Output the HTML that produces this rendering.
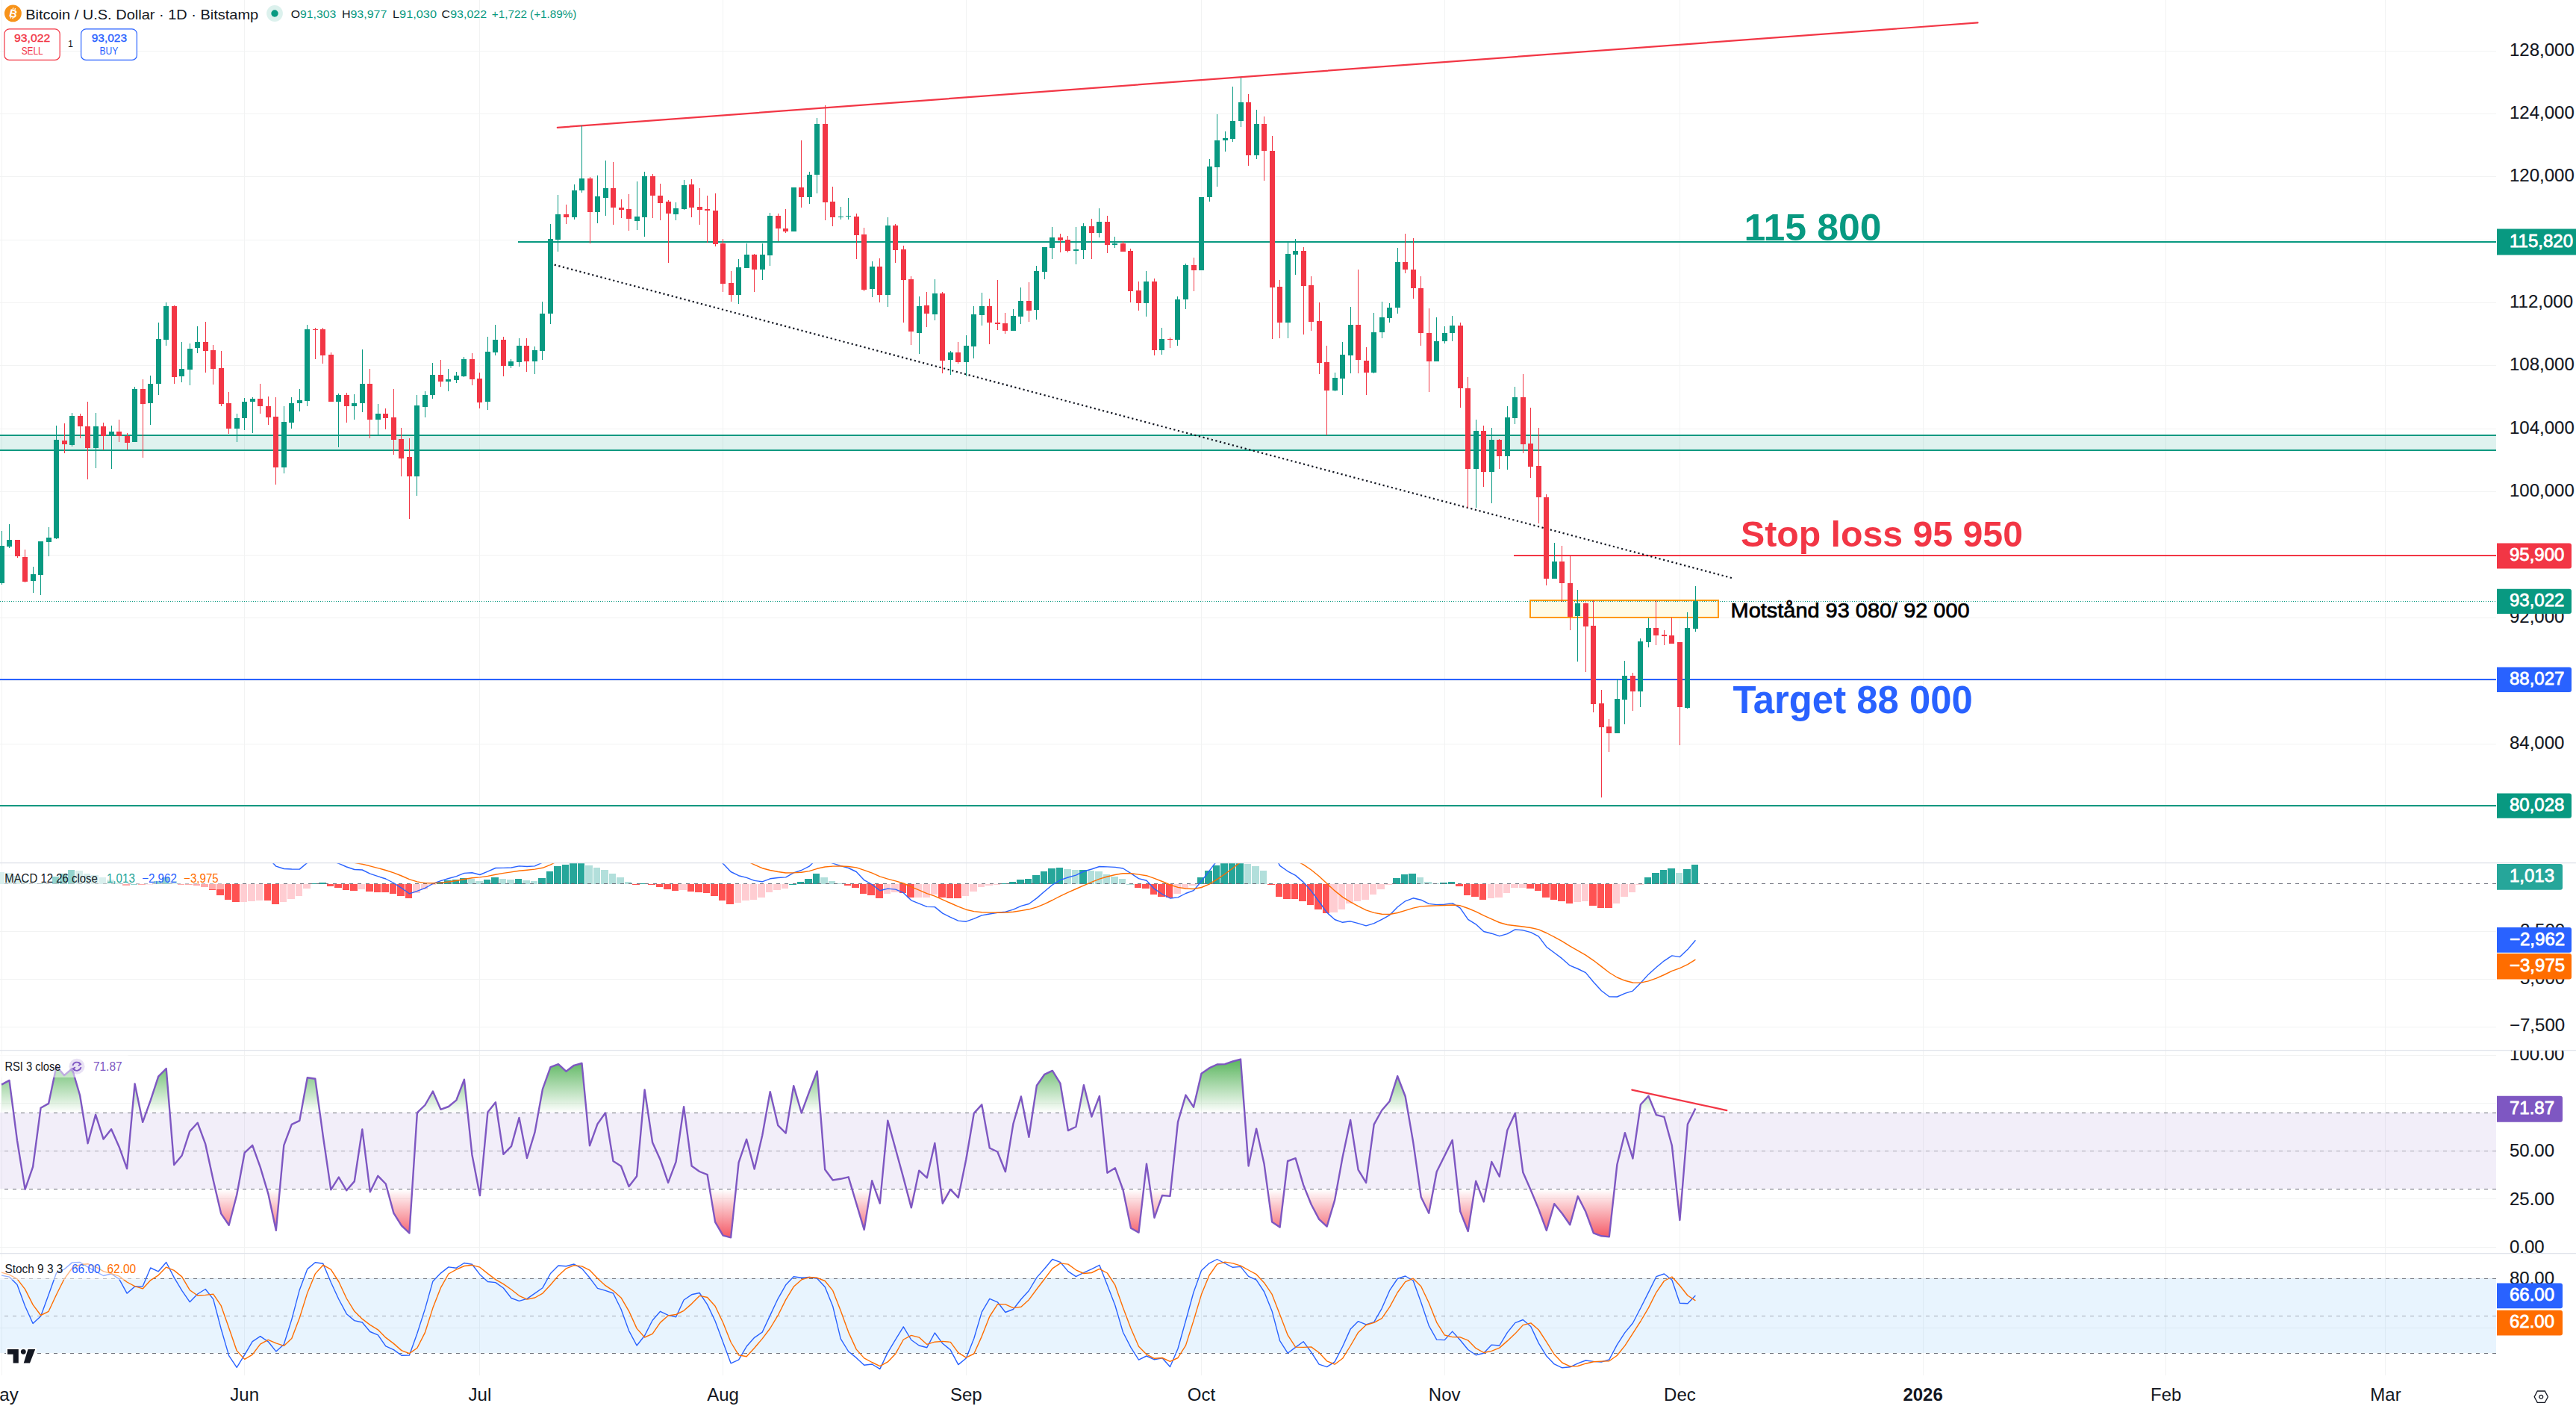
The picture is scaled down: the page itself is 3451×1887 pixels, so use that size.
<!DOCTYPE html>
<html><head><meta charset="utf-8"><title>BTCUSD chart</title>
<style>html,body{margin:0;padding:0;background:#fff;width:3451px;height:1887px;overflow:hidden}</style>
</head><body>
<svg width="3451" height="1887" viewBox="0 0 3451 1887" style="display:block">
<defs>
<clipPath id="cm"><rect x="0" y="0" width="3344" height="1155"/></clipPath>
<clipPath id="cmacd"><rect x="0" y="1156" width="3344" height="250"/></clipPath>
<clipPath id="crsi"><rect x="0" y="1407" width="3344" height="271"/></clipPath>
<clipPath id="cst"><rect x="0" y="1679" width="3344" height="163.5"/></clipPath>
<clipPath id="crsiTop"><rect x="0" y="1412.95" width="3344" height="77.25"/></clipPath>
<clipPath id="crsiBot"><rect x="0" y="1593.2" width="3344" height="77.25"/></clipPath>
<clipPath id="axm"><rect x="3344" y="0" width="200" height="1155"/></clipPath>
<clipPath id="axmacd"><rect x="3344" y="1156" width="200" height="250"/></clipPath>
<clipPath id="axrsi"><rect x="3344" y="1407" width="200" height="271"/></clipPath>
<clipPath id="axst"><rect x="3344" y="1679" width="200" height="163.5"/></clipPath>
<linearGradient id="gG" gradientUnits="userSpaceOnUse" x1="0" y1="1412.95" x2="0" y2="1490.2"><stop offset="0" stop-color="#4caf50" stop-opacity="1"/><stop offset="1" stop-color="#4caf50" stop-opacity="0"/></linearGradient>
<linearGradient id="gR" gradientUnits="userSpaceOnUse" x1="0" y1="1593.2" x2="0" y2="1670.45"><stop offset="0" stop-color="#f23645" stop-opacity="0"/><stop offset="1" stop-color="#f23645" stop-opacity="1"/></linearGradient>
</defs>
<rect width="3451" height="1887" fill="#ffffff"/>
<rect x="2" y="0" width="1" height="1842" fill="#f2f3f3"/>
<rect x="327" y="0" width="1" height="1842" fill="#f2f3f3"/>
<rect x="642" y="0" width="1" height="1842" fill="#f2f3f3"/>
<rect x="968" y="0" width="1" height="1842" fill="#f2f3f3"/>
<rect x="1294" y="0" width="1" height="1842" fill="#f2f3f3"/>
<rect x="1609" y="0" width="1" height="1842" fill="#f2f3f3"/>
<rect x="1935" y="0" width="1" height="1842" fill="#f2f3f3"/>
<rect x="2250" y="0" width="1" height="1842" fill="#f2f3f3"/>
<rect x="2576" y="0" width="1" height="1842" fill="#f2f3f3"/>
<rect x="2901" y="0" width="1" height="1842" fill="#f2f3f3"/>
<rect x="3195" y="0" width="1" height="1842" fill="#f2f3f3"/>
<rect x="0" y="1080" width="3344" height="1" fill="#f2f3f3"/>
<rect x="0" y="996" width="3344" height="1" fill="#f2f3f3"/>
<rect x="0" y="911" width="3344" height="1" fill="#f2f3f3"/>
<rect x="0" y="827" width="3344" height="1" fill="#f2f3f3"/>
<rect x="0" y="743" width="3344" height="1" fill="#f2f3f3"/>
<rect x="0" y="658" width="3344" height="1" fill="#f2f3f3"/>
<rect x="0" y="574" width="3344" height="1" fill="#f2f3f3"/>
<rect x="0" y="489" width="3344" height="1" fill="#f2f3f3"/>
<rect x="0" y="405" width="3344" height="1" fill="#f2f3f3"/>
<rect x="0" y="321" width="3344" height="1" fill="#f2f3f3"/>
<rect x="0" y="236" width="3344" height="1" fill="#f2f3f3"/>
<rect x="0" y="152" width="3344" height="1" fill="#f2f3f3"/>
<rect x="0" y="68" width="3344" height="1" fill="#f2f3f3"/>
<rect x="0" y="1247" width="3344" height="1" fill="#f2f3f3"/>
<rect x="0" y="1311" width="3344" height="1" fill="#f2f3f3"/>
<rect x="0" y="1375" width="3344" height="1" fill="#f2f3f3"/>
<rect x="0" y="1413" width="3344" height="1" fill="#f2f3f3"/>
<rect x="0" y="1477" width="3344" height="1" fill="#f2f3f3"/>
<rect x="0" y="1541" width="3344" height="1" fill="#f2f3f3"/>
<rect x="0" y="1605" width="3344" height="1" fill="#f2f3f3"/>
<rect x="0" y="1670" width="3344" height="1" fill="#f2f3f3"/>
<rect x="0" y="1712" width="3344" height="1" fill="#f2f3f3"/>
<rect x="0" y="1778" width="3344" height="1" fill="#f2f3f3"/>
<g clip-path="url(#cm)">
<rect x="0" y="584" width="3344" height="18" fill="#089981" fill-opacity="0.13"/>
<rect x="0" y="582" width="3344" height="2" fill="#089981"/>
<rect x="0" y="602" width="3344" height="2" fill="#089981"/>
<rect x="694" y="323" width="2650" height="2" fill="#089981"/>
<rect x="2028" y="743" width="1316" height="2" fill="#f23645"/>
<rect x="0" y="909" width="3344" height="2" fill="#2962ff"/>
<rect x="0" y="1078" width="3344" height="2" fill="#089981"/>
<rect x="2050" y="804" width="252" height="23" fill="#fffbe6"/>
<rect x="2050" y="804" width="252" height="23" fill="none" stroke="#ff9800" stroke-width="2"/>
<line x1="0" y1="805.5" x2="3344" y2="805.5" stroke="#089981" stroke-width="1" stroke-dasharray="1 2"/>
<line x1="746.8" y1="170.8" x2="2649.5" y2="30.4" stroke="#f23645" stroke-width="2.2" stroke-linecap="round"/>
<line x1="742.7" y1="354.6" x2="2322" y2="774.6" stroke="#131722" stroke-width="2.2" stroke-dasharray="2.2 3.6"/>
<rect x="2" y="711" width="1" height="72" fill="#089981"/>
<rect x="-1" y="731" width="7" height="50" fill="#089981"/>
<rect x="12" y="702" width="1" height="32" fill="#089981"/>
<rect x="9" y="723" width="7" height="9" fill="#089981"/>
<rect x="23" y="723" width="1" height="24" fill="#f23645"/>
<rect x="20" y="723" width="7" height="22" fill="#f23645"/>
<rect x="33" y="736" width="1" height="44" fill="#f23645"/>
<rect x="30" y="746" width="7" height="33" fill="#f23645"/>
<rect x="44" y="759" width="1" height="35" fill="#089981"/>
<rect x="41" y="769" width="7" height="9" fill="#089981"/>
<rect x="54" y="725" width="1" height="72" fill="#089981"/>
<rect x="51" y="725" width="7" height="45" fill="#089981"/>
<rect x="65" y="706" width="1" height="39" fill="#089981"/>
<rect x="62" y="720" width="7" height="6" fill="#089981"/>
<rect x="75" y="570" width="1" height="152" fill="#089981"/>
<rect x="72" y="589" width="7" height="132" fill="#089981"/>
<rect x="86" y="567" width="1" height="40" fill="#f23645"/>
<rect x="83" y="590" width="7" height="5" fill="#f23645"/>
<rect x="96" y="553" width="1" height="45" fill="#089981"/>
<rect x="93" y="557" width="7" height="39" fill="#089981"/>
<rect x="107" y="554" width="1" height="33" fill="#f23645"/>
<rect x="104" y="557" width="7" height="14" fill="#f23645"/>
<rect x="117" y="538" width="1" height="104" fill="#f23645"/>
<rect x="114" y="571" width="7" height="29" fill="#f23645"/>
<rect x="128" y="553" width="1" height="74" fill="#089981"/>
<rect x="125" y="571" width="7" height="29" fill="#089981"/>
<rect x="138" y="566" width="1" height="37" fill="#f23645"/>
<rect x="135" y="571" width="7" height="13" fill="#f23645"/>
<rect x="149" y="570" width="1" height="58" fill="#089981"/>
<rect x="146" y="578" width="7" height="6" fill="#089981"/>
<rect x="159" y="562" width="1" height="30" fill="#f23645"/>
<rect x="156" y="578" width="7" height="6" fill="#f23645"/>
<rect x="170" y="580" width="1" height="22" fill="#f23645"/>
<rect x="167" y="584" width="7" height="9" fill="#f23645"/>
<rect x="180" y="518" width="1" height="74" fill="#089981"/>
<rect x="177" y="521" width="7" height="71" fill="#089981"/>
<rect x="191" y="508" width="1" height="105" fill="#f23645"/>
<rect x="188" y="521" width="7" height="20" fill="#f23645"/>
<rect x="201" y="503" width="1" height="66" fill="#089981"/>
<rect x="198" y="514" width="7" height="26" fill="#089981"/>
<rect x="212" y="432" width="1" height="97" fill="#089981"/>
<rect x="209" y="454" width="7" height="60" fill="#089981"/>
<rect x="222" y="405" width="1" height="58" fill="#089981"/>
<rect x="219" y="410" width="7" height="45" fill="#089981"/>
<rect x="233" y="409" width="1" height="105" fill="#f23645"/>
<rect x="230" y="410" width="7" height="95" fill="#f23645"/>
<rect x="243" y="458" width="1" height="54" fill="#089981"/>
<rect x="240" y="494" width="7" height="10" fill="#089981"/>
<rect x="254" y="460" width="1" height="56" fill="#089981"/>
<rect x="251" y="467" width="7" height="28" fill="#089981"/>
<rect x="264" y="437" width="1" height="36" fill="#089981"/>
<rect x="261" y="458" width="7" height="8" fill="#089981"/>
<rect x="275" y="431" width="1" height="68" fill="#f23645"/>
<rect x="272" y="458" width="7" height="12" fill="#f23645"/>
<rect x="285" y="462" width="1" height="53" fill="#f23645"/>
<rect x="282" y="469" width="7" height="25" fill="#f23645"/>
<rect x="296" y="470" width="1" height="74" fill="#f23645"/>
<rect x="293" y="493" width="7" height="48" fill="#f23645"/>
<rect x="306" y="525" width="1" height="56" fill="#f23645"/>
<rect x="303" y="540" width="7" height="34" fill="#f23645"/>
<rect x="317" y="554" width="1" height="38" fill="#089981"/>
<rect x="314" y="560" width="7" height="14" fill="#089981"/>
<rect x="327" y="533" width="1" height="43" fill="#089981"/>
<rect x="324" y="538" width="7" height="22" fill="#089981"/>
<rect x="338" y="532" width="1" height="48" fill="#089981"/>
<rect x="335" y="534" width="7" height="4" fill="#089981"/>
<rect x="348" y="514" width="1" height="40" fill="#f23645"/>
<rect x="345" y="534" width="7" height="10" fill="#f23645"/>
<rect x="359" y="531" width="1" height="38" fill="#f23645"/>
<rect x="356" y="544" width="7" height="15" fill="#f23645"/>
<rect x="369" y="532" width="1" height="117" fill="#f23645"/>
<rect x="366" y="558" width="7" height="68" fill="#f23645"/>
<rect x="380" y="544" width="1" height="90" fill="#089981"/>
<rect x="377" y="565" width="7" height="61" fill="#089981"/>
<rect x="390" y="532" width="1" height="42" fill="#089981"/>
<rect x="387" y="540" width="7" height="26" fill="#089981"/>
<rect x="401" y="521" width="1" height="30" fill="#089981"/>
<rect x="398" y="536" width="7" height="4" fill="#089981"/>
<rect x="411" y="435" width="1" height="109" fill="#089981"/>
<rect x="408" y="441" width="7" height="96" fill="#089981"/>
<rect x="422" y="439" width="1" height="42" fill="#f23645"/>
<rect x="419" y="441" width="7" height="1" fill="#f23645"/>
<rect x="432" y="439" width="1" height="48" fill="#f23645"/>
<rect x="429" y="441" width="7" height="35" fill="#f23645"/>
<rect x="443" y="472" width="1" height="66" fill="#f23645"/>
<rect x="440" y="475" width="7" height="63" fill="#f23645"/>
<rect x="453" y="527" width="1" height="72" fill="#089981"/>
<rect x="450" y="529" width="7" height="9" fill="#089981"/>
<rect x="464" y="526" width="1" height="40" fill="#f23645"/>
<rect x="461" y="529" width="7" height="15" fill="#f23645"/>
<rect x="474" y="528" width="1" height="34" fill="#089981"/>
<rect x="471" y="540" width="7" height="4" fill="#089981"/>
<rect x="485" y="468" width="1" height="84" fill="#089981"/>
<rect x="482" y="514" width="7" height="26" fill="#089981"/>
<rect x="495" y="494" width="1" height="93" fill="#f23645"/>
<rect x="492" y="514" width="7" height="48" fill="#f23645"/>
<rect x="506" y="541" width="1" height="41" fill="#089981"/>
<rect x="503" y="554" width="7" height="8" fill="#089981"/>
<rect x="516" y="547" width="1" height="28" fill="#f23645"/>
<rect x="513" y="554" width="7" height="6" fill="#f23645"/>
<rect x="527" y="521" width="1" height="88" fill="#f23645"/>
<rect x="524" y="559" width="7" height="30" fill="#f23645"/>
<rect x="537" y="573" width="1" height="65" fill="#f23645"/>
<rect x="534" y="588" width="7" height="26" fill="#f23645"/>
<rect x="548" y="587" width="1" height="108" fill="#f23645"/>
<rect x="545" y="612" width="7" height="26" fill="#f23645"/>
<rect x="558" y="529" width="1" height="135" fill="#089981"/>
<rect x="555" y="543" width="7" height="95" fill="#089981"/>
<rect x="569" y="524" width="1" height="35" fill="#089981"/>
<rect x="566" y="529" width="7" height="16" fill="#089981"/>
<rect x="579" y="486" width="1" height="48" fill="#089981"/>
<rect x="576" y="502" width="7" height="27" fill="#089981"/>
<rect x="590" y="482" width="1" height="36" fill="#f23645"/>
<rect x="587" y="502" width="7" height="9" fill="#f23645"/>
<rect x="600" y="494" width="1" height="30" fill="#089981"/>
<rect x="597" y="508" width="7" height="3" fill="#089981"/>
<rect x="611" y="498" width="1" height="15" fill="#089981"/>
<rect x="608" y="503" width="7" height="6" fill="#089981"/>
<rect x="621" y="478" width="1" height="27" fill="#089981"/>
<rect x="618" y="481" width="7" height="23" fill="#089981"/>
<rect x="632" y="473" width="1" height="43" fill="#f23645"/>
<rect x="629" y="481" width="7" height="27" fill="#f23645"/>
<rect x="642" y="499" width="1" height="48" fill="#f23645"/>
<rect x="639" y="507" width="7" height="32" fill="#f23645"/>
<rect x="653" y="451" width="1" height="98" fill="#089981"/>
<rect x="650" y="471" width="7" height="67" fill="#089981"/>
<rect x="663" y="435" width="1" height="41" fill="#089981"/>
<rect x="660" y="455" width="7" height="17" fill="#089981"/>
<rect x="674" y="451" width="1" height="53" fill="#f23645"/>
<rect x="671" y="455" width="7" height="35" fill="#f23645"/>
<rect x="684" y="481" width="1" height="12" fill="#089981"/>
<rect x="681" y="484" width="7" height="6" fill="#089981"/>
<rect x="695" y="453" width="1" height="38" fill="#089981"/>
<rect x="692" y="463" width="7" height="22" fill="#089981"/>
<rect x="705" y="453" width="1" height="45" fill="#f23645"/>
<rect x="702" y="463" width="7" height="21" fill="#f23645"/>
<rect x="716" y="464" width="1" height="37" fill="#089981"/>
<rect x="713" y="469" width="7" height="15" fill="#089981"/>
<rect x="726" y="404" width="1" height="78" fill="#089981"/>
<rect x="723" y="420" width="7" height="50" fill="#089981"/>
<rect x="737" y="300" width="1" height="134" fill="#089981"/>
<rect x="734" y="320" width="7" height="100" fill="#089981"/>
<rect x="747" y="261" width="1" height="76" fill="#089981"/>
<rect x="744" y="287" width="7" height="34" fill="#089981"/>
<rect x="758" y="274" width="1" height="26" fill="#f23645"/>
<rect x="755" y="287" width="7" height="4" fill="#f23645"/>
<rect x="769" y="247" width="1" height="47" fill="#089981"/>
<rect x="766" y="255" width="7" height="36" fill="#089981"/>
<rect x="779" y="168" width="1" height="90" fill="#089981"/>
<rect x="776" y="239" width="7" height="16" fill="#089981"/>
<rect x="790" y="237" width="1" height="89" fill="#f23645"/>
<rect x="787" y="239" width="7" height="45" fill="#f23645"/>
<rect x="800" y="235" width="1" height="64" fill="#089981"/>
<rect x="797" y="263" width="7" height="21" fill="#089981"/>
<rect x="811" y="215" width="1" height="74" fill="#089981"/>
<rect x="808" y="252" width="7" height="13" fill="#089981"/>
<rect x="821" y="217" width="1" height="84" fill="#f23645"/>
<rect x="818" y="252" width="7" height="26" fill="#f23645"/>
<rect x="832" y="267" width="1" height="25" fill="#f23645"/>
<rect x="829" y="278" width="7" height="3" fill="#f23645"/>
<rect x="842" y="260" width="1" height="49" fill="#f23645"/>
<rect x="839" y="280" width="7" height="13" fill="#f23645"/>
<rect x="853" y="243" width="1" height="65" fill="#089981"/>
<rect x="850" y="290" width="7" height="6" fill="#089981"/>
<rect x="863" y="230" width="1" height="87" fill="#089981"/>
<rect x="860" y="236" width="7" height="55" fill="#089981"/>
<rect x="874" y="233" width="1" height="59" fill="#f23645"/>
<rect x="871" y="236" width="7" height="26" fill="#f23645"/>
<rect x="884" y="246" width="1" height="49" fill="#f23645"/>
<rect x="881" y="262" width="7" height="10" fill="#f23645"/>
<rect x="895" y="268" width="1" height="84" fill="#f23645"/>
<rect x="892" y="270" width="7" height="16" fill="#f23645"/>
<rect x="905" y="271" width="1" height="24" fill="#089981"/>
<rect x="902" y="279" width="7" height="8" fill="#089981"/>
<rect x="916" y="241" width="1" height="40" fill="#089981"/>
<rect x="913" y="248" width="7" height="32" fill="#089981"/>
<rect x="926" y="240" width="1" height="51" fill="#f23645"/>
<rect x="923" y="247" width="7" height="31" fill="#f23645"/>
<rect x="937" y="252" width="1" height="49" fill="#f23645"/>
<rect x="934" y="277" width="7" height="4" fill="#f23645"/>
<rect x="947" y="262" width="1" height="63" fill="#f23645"/>
<rect x="944" y="280" width="7" height="2" fill="#f23645"/>
<rect x="958" y="259" width="1" height="71" fill="#f23645"/>
<rect x="955" y="282" width="7" height="45" fill="#f23645"/>
<rect x="968" y="320" width="1" height="71" fill="#f23645"/>
<rect x="965" y="326" width="7" height="54" fill="#f23645"/>
<rect x="979" y="363" width="1" height="41" fill="#f23645"/>
<rect x="976" y="379" width="7" height="16" fill="#f23645"/>
<rect x="989" y="347" width="1" height="60" fill="#089981"/>
<rect x="986" y="358" width="7" height="37" fill="#089981"/>
<rect x="1000" y="326" width="1" height="33" fill="#089981"/>
<rect x="997" y="341" width="7" height="18" fill="#089981"/>
<rect x="1010" y="340" width="1" height="51" fill="#f23645"/>
<rect x="1007" y="341" width="7" height="20" fill="#f23645"/>
<rect x="1021" y="326" width="1" height="49" fill="#089981"/>
<rect x="1018" y="341" width="7" height="20" fill="#089981"/>
<rect x="1031" y="285" width="1" height="71" fill="#089981"/>
<rect x="1028" y="289" width="7" height="53" fill="#089981"/>
<rect x="1042" y="286" width="1" height="37" fill="#f23645"/>
<rect x="1039" y="289" width="7" height="17" fill="#f23645"/>
<rect x="1052" y="280" width="1" height="32" fill="#f23645"/>
<rect x="1049" y="306" width="7" height="4" fill="#f23645"/>
<rect x="1063" y="251" width="1" height="59" fill="#089981"/>
<rect x="1060" y="251" width="7" height="59" fill="#089981"/>
<rect x="1073" y="188" width="1" height="90" fill="#f23645"/>
<rect x="1070" y="251" width="7" height="13" fill="#f23645"/>
<rect x="1084" y="230" width="1" height="43" fill="#089981"/>
<rect x="1081" y="234" width="7" height="30" fill="#089981"/>
<rect x="1094" y="158" width="1" height="101" fill="#089981"/>
<rect x="1091" y="166" width="7" height="68" fill="#089981"/>
<rect x="1105" y="141" width="1" height="154" fill="#f23645"/>
<rect x="1102" y="166" width="7" height="105" fill="#f23645"/>
<rect x="1115" y="250" width="1" height="53" fill="#f23645"/>
<rect x="1112" y="270" width="7" height="21" fill="#f23645"/>
<rect x="1126" y="277" width="1" height="17" fill="#089981"/>
<rect x="1123" y="290" width="7" height="1" fill="#089981"/>
<rect x="1136" y="265" width="1" height="29" fill="#089981"/>
<rect x="1133" y="289" width="7" height="1" fill="#089981"/>
<rect x="1147" y="286" width="1" height="61" fill="#f23645"/>
<rect x="1144" y="290" width="7" height="25" fill="#f23645"/>
<rect x="1157" y="305" width="1" height="85" fill="#f23645"/>
<rect x="1154" y="314" width="7" height="74" fill="#f23645"/>
<rect x="1168" y="350" width="1" height="48" fill="#089981"/>
<rect x="1165" y="357" width="7" height="30" fill="#089981"/>
<rect x="1178" y="346" width="1" height="59" fill="#f23645"/>
<rect x="1175" y="357" width="7" height="38" fill="#f23645"/>
<rect x="1189" y="291" width="1" height="120" fill="#089981"/>
<rect x="1186" y="302" width="7" height="93" fill="#089981"/>
<rect x="1199" y="300" width="1" height="52" fill="#f23645"/>
<rect x="1196" y="302" width="7" height="33" fill="#f23645"/>
<rect x="1210" y="329" width="1" height="103" fill="#f23645"/>
<rect x="1207" y="334" width="7" height="41" fill="#f23645"/>
<rect x="1220" y="370" width="1" height="92" fill="#f23645"/>
<rect x="1217" y="374" width="7" height="70" fill="#f23645"/>
<rect x="1231" y="397" width="1" height="77" fill="#089981"/>
<rect x="1228" y="410" width="7" height="36" fill="#089981"/>
<rect x="1241" y="391" width="1" height="47" fill="#f23645"/>
<rect x="1238" y="409" width="7" height="11" fill="#f23645"/>
<rect x="1252" y="374" width="1" height="55" fill="#089981"/>
<rect x="1249" y="393" width="7" height="28" fill="#089981"/>
<rect x="1262" y="391" width="1" height="109" fill="#f23645"/>
<rect x="1259" y="393" width="7" height="90" fill="#f23645"/>
<rect x="1273" y="470" width="1" height="32" fill="#089981"/>
<rect x="1270" y="472" width="7" height="10" fill="#089981"/>
<rect x="1283" y="458" width="1" height="29" fill="#f23645"/>
<rect x="1280" y="472" width="7" height="13" fill="#f23645"/>
<rect x="1294" y="449" width="1" height="55" fill="#089981"/>
<rect x="1291" y="463" width="7" height="22" fill="#089981"/>
<rect x="1304" y="410" width="1" height="70" fill="#089981"/>
<rect x="1301" y="421" width="7" height="43" fill="#089981"/>
<rect x="1315" y="392" width="1" height="44" fill="#089981"/>
<rect x="1312" y="410" width="7" height="12" fill="#089981"/>
<rect x="1325" y="400" width="1" height="61" fill="#f23645"/>
<rect x="1322" y="410" width="7" height="22" fill="#f23645"/>
<rect x="1336" y="375" width="1" height="67" fill="#f23645"/>
<rect x="1333" y="432" width="7" height="2" fill="#f23645"/>
<rect x="1346" y="419" width="1" height="28" fill="#f23645"/>
<rect x="1343" y="433" width="7" height="10" fill="#f23645"/>
<rect x="1357" y="414" width="1" height="29" fill="#089981"/>
<rect x="1354" y="423" width="7" height="20" fill="#089981"/>
<rect x="1367" y="385" width="1" height="49" fill="#089981"/>
<rect x="1364" y="403" width="7" height="21" fill="#089981"/>
<rect x="1378" y="378" width="1" height="53" fill="#f23645"/>
<rect x="1375" y="403" width="7" height="13" fill="#f23645"/>
<rect x="1388" y="356" width="1" height="72" fill="#089981"/>
<rect x="1385" y="363" width="7" height="52" fill="#089981"/>
<rect x="1399" y="331" width="1" height="43" fill="#089981"/>
<rect x="1396" y="331" width="7" height="33" fill="#089981"/>
<rect x="1409" y="304" width="1" height="43" fill="#089981"/>
<rect x="1406" y="318" width="7" height="14" fill="#089981"/>
<rect x="1420" y="313" width="1" height="25" fill="#f23645"/>
<rect x="1417" y="318" width="7" height="4" fill="#f23645"/>
<rect x="1430" y="316" width="1" height="22" fill="#f23645"/>
<rect x="1427" y="321" width="7" height="15" fill="#f23645"/>
<rect x="1441" y="304" width="1" height="50" fill="#089981"/>
<rect x="1438" y="334" width="7" height="2" fill="#089981"/>
<rect x="1451" y="299" width="1" height="48" fill="#089981"/>
<rect x="1448" y="303" width="7" height="32" fill="#089981"/>
<rect x="1462" y="293" width="1" height="54" fill="#f23645"/>
<rect x="1459" y="303" width="7" height="9" fill="#f23645"/>
<rect x="1472" y="279" width="1" height="39" fill="#089981"/>
<rect x="1469" y="297" width="7" height="15" fill="#089981"/>
<rect x="1483" y="289" width="1" height="50" fill="#f23645"/>
<rect x="1480" y="297" width="7" height="31" fill="#f23645"/>
<rect x="1493" y="317" width="1" height="15" fill="#089981"/>
<rect x="1490" y="326" width="7" height="2" fill="#089981"/>
<rect x="1504" y="323" width="1" height="14" fill="#f23645"/>
<rect x="1501" y="326" width="7" height="11" fill="#f23645"/>
<rect x="1514" y="333" width="1" height="72" fill="#f23645"/>
<rect x="1511" y="336" width="7" height="54" fill="#f23645"/>
<rect x="1525" y="377" width="1" height="39" fill="#f23645"/>
<rect x="1522" y="389" width="7" height="17" fill="#f23645"/>
<rect x="1535" y="363" width="1" height="61" fill="#089981"/>
<rect x="1532" y="377" width="7" height="29" fill="#089981"/>
<rect x="1546" y="373" width="1" height="103" fill="#f23645"/>
<rect x="1543" y="377" width="7" height="92" fill="#f23645"/>
<rect x="1556" y="439" width="1" height="36" fill="#089981"/>
<rect x="1553" y="454" width="7" height="15" fill="#089981"/>
<rect x="1567" y="452" width="1" height="14" fill="#f23645"/>
<rect x="1564" y="454" width="7" height="1" fill="#f23645"/>
<rect x="1577" y="397" width="1" height="66" fill="#089981"/>
<rect x="1574" y="401" width="7" height="54" fill="#089981"/>
<rect x="1588" y="353" width="1" height="61" fill="#089981"/>
<rect x="1585" y="355" width="7" height="46" fill="#089981"/>
<rect x="1599" y="345" width="1" height="45" fill="#f23645"/>
<rect x="1596" y="355" width="7" height="7" fill="#f23645"/>
<rect x="1609" y="264" width="1" height="98" fill="#089981"/>
<rect x="1606" y="264" width="7" height="98" fill="#089981"/>
<rect x="1620" y="213" width="1" height="57" fill="#089981"/>
<rect x="1617" y="223" width="7" height="41" fill="#089981"/>
<rect x="1630" y="153" width="1" height="97" fill="#089981"/>
<rect x="1627" y="188" width="7" height="36" fill="#089981"/>
<rect x="1641" y="176" width="1" height="27" fill="#089981"/>
<rect x="1638" y="185" width="7" height="3" fill="#089981"/>
<rect x="1651" y="116" width="1" height="74" fill="#089981"/>
<rect x="1648" y="162" width="7" height="24" fill="#089981"/>
<rect x="1662" y="104" width="1" height="66" fill="#089981"/>
<rect x="1659" y="137" width="7" height="25" fill="#089981"/>
<rect x="1672" y="126" width="1" height="96" fill="#f23645"/>
<rect x="1669" y="137" width="7" height="71" fill="#f23645"/>
<rect x="1683" y="147" width="1" height="66" fill="#089981"/>
<rect x="1680" y="166" width="7" height="42" fill="#089981"/>
<rect x="1693" y="156" width="1" height="86" fill="#f23645"/>
<rect x="1690" y="166" width="7" height="36" fill="#f23645"/>
<rect x="1704" y="182" width="1" height="272" fill="#f23645"/>
<rect x="1701" y="202" width="7" height="183" fill="#f23645"/>
<rect x="1714" y="375" width="1" height="78" fill="#f23645"/>
<rect x="1711" y="384" width="7" height="48" fill="#f23645"/>
<rect x="1725" y="324" width="1" height="129" fill="#089981"/>
<rect x="1722" y="340" width="7" height="92" fill="#089981"/>
<rect x="1735" y="320" width="1" height="48" fill="#089981"/>
<rect x="1732" y="336" width="7" height="5" fill="#089981"/>
<rect x="1746" y="331" width="1" height="117" fill="#f23645"/>
<rect x="1743" y="336" width="7" height="47" fill="#f23645"/>
<rect x="1756" y="370" width="1" height="73" fill="#f23645"/>
<rect x="1753" y="382" width="7" height="49" fill="#f23645"/>
<rect x="1767" y="405" width="1" height="96" fill="#f23645"/>
<rect x="1764" y="430" width="7" height="56" fill="#f23645"/>
<rect x="1777" y="463" width="1" height="120" fill="#f23645"/>
<rect x="1774" y="485" width="7" height="38" fill="#f23645"/>
<rect x="1788" y="499" width="1" height="25" fill="#089981"/>
<rect x="1785" y="506" width="7" height="17" fill="#089981"/>
<rect x="1798" y="458" width="1" height="71" fill="#089981"/>
<rect x="1795" y="475" width="7" height="32" fill="#089981"/>
<rect x="1809" y="411" width="1" height="89" fill="#089981"/>
<rect x="1806" y="435" width="7" height="41" fill="#089981"/>
<rect x="1819" y="361" width="1" height="139" fill="#f23645"/>
<rect x="1816" y="435" width="7" height="47" fill="#f23645"/>
<rect x="1830" y="465" width="1" height="64" fill="#f23645"/>
<rect x="1827" y="483" width="7" height="16" fill="#f23645"/>
<rect x="1840" y="419" width="1" height="81" fill="#089981"/>
<rect x="1837" y="445" width="7" height="54" fill="#089981"/>
<rect x="1851" y="404" width="1" height="49" fill="#089981"/>
<rect x="1848" y="425" width="7" height="20" fill="#089981"/>
<rect x="1861" y="406" width="1" height="26" fill="#089981"/>
<rect x="1858" y="412" width="7" height="14" fill="#089981"/>
<rect x="1872" y="332" width="1" height="88" fill="#089981"/>
<rect x="1869" y="351" width="7" height="61" fill="#089981"/>
<rect x="1882" y="313" width="1" height="53" fill="#f23645"/>
<rect x="1879" y="351" width="7" height="10" fill="#f23645"/>
<rect x="1893" y="319" width="1" height="81" fill="#f23645"/>
<rect x="1890" y="361" width="7" height="25" fill="#f23645"/>
<rect x="1903" y="370" width="1" height="93" fill="#f23645"/>
<rect x="1900" y="386" width="7" height="60" fill="#f23645"/>
<rect x="1914" y="413" width="1" height="112" fill="#f23645"/>
<rect x="1911" y="446" width="7" height="38" fill="#f23645"/>
<rect x="1924" y="425" width="1" height="59" fill="#089981"/>
<rect x="1921" y="457" width="7" height="27" fill="#089981"/>
<rect x="1935" y="437" width="1" height="23" fill="#089981"/>
<rect x="1932" y="446" width="7" height="11" fill="#089981"/>
<rect x="1945" y="423" width="1" height="34" fill="#089981"/>
<rect x="1942" y="436" width="7" height="10" fill="#089981"/>
<rect x="1956" y="432" width="1" height="114" fill="#f23645"/>
<rect x="1953" y="436" width="7" height="84" fill="#f23645"/>
<rect x="1966" y="505" width="1" height="175" fill="#f23645"/>
<rect x="1963" y="520" width="7" height="108" fill="#f23645"/>
<rect x="1977" y="562" width="1" height="118" fill="#089981"/>
<rect x="1974" y="577" width="7" height="51" fill="#089981"/>
<rect x="1987" y="570" width="1" height="82" fill="#f23645"/>
<rect x="1984" y="577" width="7" height="55" fill="#f23645"/>
<rect x="1998" y="573" width="1" height="101" fill="#089981"/>
<rect x="1995" y="589" width="7" height="43" fill="#089981"/>
<rect x="2008" y="588" width="1" height="40" fill="#f23645"/>
<rect x="2005" y="589" width="7" height="22" fill="#f23645"/>
<rect x="2019" y="544" width="1" height="85" fill="#089981"/>
<rect x="2016" y="559" width="7" height="52" fill="#089981"/>
<rect x="2029" y="518" width="1" height="50" fill="#089981"/>
<rect x="2026" y="532" width="7" height="28" fill="#089981"/>
<rect x="2040" y="501" width="1" height="106" fill="#f23645"/>
<rect x="2037" y="532" width="7" height="63" fill="#f23645"/>
<rect x="2050" y="546" width="1" height="94" fill="#f23645"/>
<rect x="2047" y="594" width="7" height="31" fill="#f23645"/>
<rect x="2061" y="573" width="1" height="128" fill="#f23645"/>
<rect x="2058" y="624" width="7" height="42" fill="#f23645"/>
<rect x="2071" y="662" width="1" height="122" fill="#f23645"/>
<rect x="2068" y="666" width="7" height="109" fill="#f23645"/>
<rect x="2082" y="727" width="1" height="48" fill="#089981"/>
<rect x="2079" y="752" width="7" height="23" fill="#089981"/>
<rect x="2092" y="731" width="1" height="75" fill="#f23645"/>
<rect x="2089" y="752" width="7" height="29" fill="#f23645"/>
<rect x="2103" y="744" width="1" height="100" fill="#f23645"/>
<rect x="2100" y="781" width="7" height="45" fill="#f23645"/>
<rect x="2113" y="790" width="1" height="96" fill="#089981"/>
<rect x="2110" y="808" width="7" height="17" fill="#089981"/>
<rect x="2124" y="807" width="1" height="93" fill="#f23645"/>
<rect x="2121" y="808" width="7" height="31" fill="#f23645"/>
<rect x="2134" y="804" width="1" height="150" fill="#f23645"/>
<rect x="2131" y="838" width="7" height="105" fill="#f23645"/>
<rect x="2145" y="924" width="1" height="144" fill="#f23645"/>
<rect x="2142" y="942" width="7" height="32" fill="#f23645"/>
<rect x="2155" y="963" width="1" height="44" fill="#f23645"/>
<rect x="2152" y="973" width="7" height="9" fill="#f23645"/>
<rect x="2166" y="909" width="1" height="73" fill="#089981"/>
<rect x="2163" y="936" width="7" height="46" fill="#089981"/>
<rect x="2176" y="885" width="1" height="85" fill="#089981"/>
<rect x="2173" y="905" width="7" height="32" fill="#089981"/>
<rect x="2187" y="901" width="1" height="51" fill="#f23645"/>
<rect x="2184" y="905" width="7" height="21" fill="#f23645"/>
<rect x="2197" y="855" width="1" height="92" fill="#089981"/>
<rect x="2194" y="859" width="7" height="67" fill="#089981"/>
<rect x="2208" y="828" width="1" height="39" fill="#089981"/>
<rect x="2205" y="841" width="7" height="19" fill="#089981"/>
<rect x="2218" y="804" width="1" height="60" fill="#f23645"/>
<rect x="2215" y="841" width="7" height="10" fill="#f23645"/>
<rect x="2229" y="844" width="1" height="20" fill="#f23645"/>
<rect x="2226" y="850" width="7" height="2" fill="#f23645"/>
<rect x="2239" y="827" width="1" height="35" fill="#f23645"/>
<rect x="2236" y="851" width="7" height="11" fill="#f23645"/>
<rect x="2250" y="860" width="1" height="138" fill="#f23645"/>
<rect x="2247" y="860" width="7" height="87" fill="#f23645"/>
<rect x="2260" y="820" width="1" height="129" fill="#089981"/>
<rect x="2257" y="841" width="7" height="107" fill="#089981"/>
<rect x="2271" y="785" width="1" height="61" fill="#089981"/>
<rect x="2268" y="805" width="7" height="37" fill="#089981"/>
<text x="2336.5" y="322" font-family="Liberation Sans, sans-serif" font-weight="bold" font-size="50" fill="#089981" textLength="184" lengthAdjust="spacingAndGlyphs">115 800</text>
<text x="2332" y="732" font-family="Liberation Sans, sans-serif" font-weight="bold" font-size="49" fill="#f23645" textLength="378" lengthAdjust="spacingAndGlyphs">Stop loss 95 950</text>
<text x="2321.4" y="954.9" font-family="Liberation Sans, sans-serif" font-weight="bold" font-size="51" fill="#2962ff" textLength="321.4" lengthAdjust="spacingAndGlyphs">Target 88 000</text>
<text x="2318.6" y="826.9" font-family="Liberation Sans, sans-serif" font-size="27.5" fill="#000000" stroke="#000000" stroke-width="0.7" textLength="320" lengthAdjust="spacingAndGlyphs">Motstånd 93 080/ 92 000</text>
</g>
<g clip-path="url(#cmacd)">
<rect x="-4" y="1168" width="10" height="16" fill="#b2dfdb"/>
<rect x="7" y="1169" width="9" height="15" fill="#b2dfdb"/>
<rect x="17" y="1173" width="10" height="11" fill="#b2dfdb"/>
<rect x="28" y="1179" width="9" height="5" fill="#b2dfdb"/>
<rect x="38" y="1183" width="10" height="1" fill="#b2dfdb"/>
<rect x="49" y="1183" width="9" height="1" fill="#26a69a"/>
<rect x="59" y="1183" width="10" height="1" fill="#b2dfdb"/>
<rect x="70" y="1174" width="9" height="10" fill="#26a69a"/>
<rect x="80" y="1170" width="10" height="14" fill="#26a69a"/>
<rect x="91" y="1165" width="9" height="19" fill="#26a69a"/>
<rect x="101" y="1166" width="10" height="18" fill="#b2dfdb"/>
<rect x="112" y="1170" width="9" height="14" fill="#b2dfdb"/>
<rect x="122" y="1172" width="10" height="12" fill="#b2dfdb"/>
<rect x="133" y="1175" width="9" height="9" fill="#b2dfdb"/>
<rect x="143" y="1178" width="10" height="6" fill="#b2dfdb"/>
<rect x="154" y="1182" width="9" height="2" fill="#b2dfdb"/>
<rect x="164" y="1184" width="10" height="2" fill="#ff5252"/>
<rect x="175" y="1184" width="9" height="1" fill="#26a69a"/>
<rect x="185" y="1184" width="10" height="1" fill="#ff5252"/>
<rect x="196" y="1184" width="9" height="1" fill="#ffcdd2"/>
<rect x="206" y="1180" width="10" height="4" fill="#26a69a"/>
<rect x="217" y="1175" width="9" height="9" fill="#26a69a"/>
<rect x="227" y="1180" width="10" height="4" fill="#b2dfdb"/>
<rect x="238" y="1184" width="9" height="1" fill="#ff5252"/>
<rect x="248" y="1184" width="10" height="1" fill="#ff5252"/>
<rect x="259" y="1184" width="9" height="2" fill="#ff5252"/>
<rect x="269" y="1184" width="10" height="4" fill="#ff5252"/>
<rect x="280" y="1184" width="9" height="8" fill="#ff5252"/>
<rect x="290" y="1184" width="10" height="15" fill="#ff5252"/>
<rect x="301" y="1184" width="9" height="21" fill="#ff5252"/>
<rect x="311" y="1184" width="10" height="24" fill="#ff5252"/>
<rect x="322" y="1184" width="9" height="24" fill="#ffcdd2"/>
<rect x="332" y="1184" width="10" height="23" fill="#ffcdd2"/>
<rect x="343" y="1184" width="9" height="22" fill="#ffcdd2"/>
<rect x="354" y="1184" width="9" height="22" fill="#ff5252"/>
<rect x="364" y="1184" width="10" height="27" fill="#ff5252"/>
<rect x="375" y="1184" width="9" height="24" fill="#ffcdd2"/>
<rect x="385" y="1184" width="10" height="20" fill="#ffcdd2"/>
<rect x="396" y="1184" width="9" height="16" fill="#ffcdd2"/>
<rect x="406" y="1184" width="10" height="6" fill="#ffcdd2"/>
<rect x="417" y="1183" width="9" height="1" fill="#26a69a"/>
<rect x="427" y="1182" width="10" height="2" fill="#26a69a"/>
<rect x="438" y="1184" width="9" height="3" fill="#ff5252"/>
<rect x="448" y="1184" width="10" height="5" fill="#ff5252"/>
<rect x="459" y="1184" width="9" height="8" fill="#ff5252"/>
<rect x="469" y="1184" width="10" height="9" fill="#ff5252"/>
<rect x="480" y="1184" width="9" height="7" fill="#ffcdd2"/>
<rect x="490" y="1184" width="10" height="10" fill="#ff5252"/>
<rect x="501" y="1184" width="9" height="11" fill="#ff5252"/>
<rect x="511" y="1184" width="10" height="11" fill="#ff5252"/>
<rect x="522" y="1184" width="9" height="13" fill="#ff5252"/>
<rect x="532" y="1184" width="10" height="16" fill="#ff5252"/>
<rect x="543" y="1184" width="9" height="19" fill="#ff5252"/>
<rect x="553" y="1184" width="10" height="12" fill="#ffcdd2"/>
<rect x="564" y="1184" width="9" height="7" fill="#ffcdd2"/>
<rect x="574" y="1184" width="10" height="1" fill="#ffcdd2"/>
<rect x="585" y="1181" width="9" height="3" fill="#26a69a"/>
<rect x="595" y="1179" width="10" height="5" fill="#26a69a"/>
<rect x="606" y="1178" width="9" height="6" fill="#26a69a"/>
<rect x="616" y="1176" width="10" height="8" fill="#26a69a"/>
<rect x="627" y="1177" width="9" height="7" fill="#b2dfdb"/>
<rect x="637" y="1180" width="10" height="4" fill="#b2dfdb"/>
<rect x="648" y="1178" width="9" height="6" fill="#26a69a"/>
<rect x="658" y="1175" width="10" height="9" fill="#26a69a"/>
<rect x="669" y="1177" width="9" height="7" fill="#b2dfdb"/>
<rect x="679" y="1178" width="10" height="6" fill="#b2dfdb"/>
<rect x="690" y="1177" width="9" height="7" fill="#26a69a"/>
<rect x="700" y="1179" width="10" height="5" fill="#b2dfdb"/>
<rect x="711" y="1180" width="9" height="4" fill="#b2dfdb"/>
<rect x="721" y="1176" width="10" height="8" fill="#26a69a"/>
<rect x="732" y="1167" width="9" height="17" fill="#26a69a"/>
<rect x="742" y="1160" width="10" height="24" fill="#26a69a"/>
<rect x="753" y="1158" width="9" height="26" fill="#26a69a"/>
<rect x="763" y="1155" width="10" height="29" fill="#26a69a"/>
<rect x="774" y="1154" width="9" height="30" fill="#26a69a"/>
<rect x="784" y="1159" width="10" height="25" fill="#b2dfdb"/>
<rect x="795" y="1162" width="9" height="22" fill="#b2dfdb"/>
<rect x="805" y="1165" width="10" height="19" fill="#b2dfdb"/>
<rect x="816" y="1170" width="9" height="14" fill="#b2dfdb"/>
<rect x="826" y="1175" width="10" height="9" fill="#b2dfdb"/>
<rect x="837" y="1181" width="9" height="3" fill="#b2dfdb"/>
<rect x="847" y="1184" width="10" height="1" fill="#ff5252"/>
<rect x="858" y="1183" width="9" height="1" fill="#26a69a"/>
<rect x="868" y="1184" width="10" height="1" fill="#ff5252"/>
<rect x="879" y="1184" width="9" height="4" fill="#ff5252"/>
<rect x="889" y="1184" width="10" height="7" fill="#ff5252"/>
<rect x="900" y="1184" width="9" height="9" fill="#ff5252"/>
<rect x="910" y="1184" width="10" height="8" fill="#ffcdd2"/>
<rect x="921" y="1184" width="9" height="10" fill="#ff5252"/>
<rect x="931" y="1184" width="10" height="11" fill="#ff5252"/>
<rect x="942" y="1184" width="9" height="12" fill="#ff5252"/>
<rect x="952" y="1184" width="10" height="16" fill="#ff5252"/>
<rect x="963" y="1184" width="9" height="22" fill="#ff5252"/>
<rect x="973" y="1184" width="10" height="27" fill="#ff5252"/>
<rect x="984" y="1184" width="9" height="25" fill="#ffcdd2"/>
<rect x="994" y="1184" width="10" height="22" fill="#ffcdd2"/>
<rect x="1005" y="1184" width="9" height="21" fill="#ffcdd2"/>
<rect x="1015" y="1184" width="10" height="18" fill="#ffcdd2"/>
<rect x="1026" y="1184" width="9" height="11" fill="#ffcdd2"/>
<rect x="1036" y="1184" width="10" height="8" fill="#ffcdd2"/>
<rect x="1047" y="1184" width="9" height="6" fill="#ffcdd2"/>
<rect x="1057" y="1184" width="10" height="1" fill="#26a69a"/>
<rect x="1068" y="1181" width="9" height="3" fill="#26a69a"/>
<rect x="1078" y="1177" width="10" height="7" fill="#26a69a"/>
<rect x="1089" y="1170" width="9" height="14" fill="#26a69a"/>
<rect x="1099" y="1175" width="10" height="9" fill="#b2dfdb"/>
<rect x="1110" y="1180" width="9" height="4" fill="#b2dfdb"/>
<rect x="1120" y="1183" width="10" height="1" fill="#b2dfdb"/>
<rect x="1131" y="1184" width="9" height="2" fill="#ff5252"/>
<rect x="1141" y="1184" width="10" height="5" fill="#ff5252"/>
<rect x="1152" y="1184" width="9" height="13" fill="#ff5252"/>
<rect x="1162" y="1184" width="10" height="15" fill="#ff5252"/>
<rect x="1173" y="1184" width="10" height="19" fill="#ff5252"/>
<rect x="1184" y="1184" width="9" height="13" fill="#ffcdd2"/>
<rect x="1194" y="1184" width="10" height="11" fill="#ffcdd2"/>
<rect x="1205" y="1184" width="9" height="12" fill="#ff5252"/>
<rect x="1215" y="1184" width="10" height="18" fill="#ff5252"/>
<rect x="1226" y="1184" width="9" height="18" fill="#ffcdd2"/>
<rect x="1236" y="1184" width="10" height="18" fill="#ffcdd2"/>
<rect x="1247" y="1184" width="9" height="14" fill="#ffcdd2"/>
<rect x="1257" y="1184" width="10" height="18" fill="#ff5252"/>
<rect x="1268" y="1184" width="9" height="19" fill="#ff5252"/>
<rect x="1278" y="1184" width="10" height="19" fill="#ff5252"/>
<rect x="1289" y="1184" width="9" height="16" fill="#ffcdd2"/>
<rect x="1299" y="1184" width="10" height="10" fill="#ffcdd2"/>
<rect x="1310" y="1184" width="9" height="4" fill="#ffcdd2"/>
<rect x="1320" y="1184" width="10" height="2" fill="#ffcdd2"/>
<rect x="1331" y="1184" width="9" height="1" fill="#ffcdd2"/>
<rect x="1341" y="1183" width="10" height="1" fill="#26a69a"/>
<rect x="1352" y="1181" width="9" height="3" fill="#26a69a"/>
<rect x="1362" y="1178" width="10" height="6" fill="#26a69a"/>
<rect x="1373" y="1177" width="9" height="7" fill="#26a69a"/>
<rect x="1383" y="1172" width="10" height="12" fill="#26a69a"/>
<rect x="1394" y="1167" width="9" height="17" fill="#26a69a"/>
<rect x="1404" y="1163" width="10" height="21" fill="#26a69a"/>
<rect x="1415" y="1162" width="9" height="22" fill="#26a69a"/>
<rect x="1425" y="1164" width="10" height="20" fill="#b2dfdb"/>
<rect x="1436" y="1165" width="9" height="19" fill="#b2dfdb"/>
<rect x="1446" y="1165" width="10" height="19" fill="#26a69a"/>
<rect x="1457" y="1166" width="9" height="18" fill="#b2dfdb"/>
<rect x="1467" y="1167" width="10" height="17" fill="#b2dfdb"/>
<rect x="1478" y="1171" width="9" height="13" fill="#b2dfdb"/>
<rect x="1488" y="1174" width="10" height="10" fill="#b2dfdb"/>
<rect x="1499" y="1177" width="9" height="7" fill="#b2dfdb"/>
<rect x="1509" y="1184" width="10" height="1" fill="#b2dfdb"/>
<rect x="1520" y="1184" width="9" height="5" fill="#ff5252"/>
<rect x="1530" y="1184" width="10" height="6" fill="#ff5252"/>
<rect x="1541" y="1184" width="9" height="14" fill="#ff5252"/>
<rect x="1551" y="1184" width="10" height="17" fill="#ff5252"/>
<rect x="1562" y="1184" width="9" height="18" fill="#ff5252"/>
<rect x="1572" y="1184" width="10" height="13" fill="#ffcdd2"/>
<rect x="1583" y="1184" width="9" height="6" fill="#ffcdd2"/>
<rect x="1593" y="1184" width="10" height="2" fill="#ffcdd2"/>
<rect x="1604" y="1175" width="9" height="9" fill="#26a69a"/>
<rect x="1614" y="1166" width="10" height="18" fill="#26a69a"/>
<rect x="1625" y="1159" width="9" height="25" fill="#26a69a"/>
<rect x="1635" y="1155" width="10" height="29" fill="#26a69a"/>
<rect x="1646" y="1153" width="9" height="31" fill="#26a69a"/>
<rect x="1656" y="1151" width="10" height="33" fill="#26a69a"/>
<rect x="1667" y="1157" width="9" height="27" fill="#b2dfdb"/>
<rect x="1677" y="1160" width="10" height="24" fill="#b2dfdb"/>
<rect x="1688" y="1166" width="9" height="18" fill="#b2dfdb"/>
<rect x="1698" y="1184" width="10" height="1" fill="#ff5252"/>
<rect x="1709" y="1184" width="9" height="17" fill="#ff5252"/>
<rect x="1719" y="1184" width="10" height="20" fill="#ff5252"/>
<rect x="1730" y="1184" width="9" height="20" fill="#ff5252"/>
<rect x="1740" y="1184" width="10" height="23" fill="#ff5252"/>
<rect x="1751" y="1184" width="9" height="28" fill="#ff5252"/>
<rect x="1761" y="1184" width="10" height="34" fill="#ff5252"/>
<rect x="1772" y="1184" width="9" height="39" fill="#ff5252"/>
<rect x="1782" y="1184" width="10" height="38" fill="#ffcdd2"/>
<rect x="1793" y="1184" width="9" height="34" fill="#ffcdd2"/>
<rect x="1803" y="1184" width="10" height="26" fill="#ffcdd2"/>
<rect x="1814" y="1184" width="9" height="23" fill="#ffcdd2"/>
<rect x="1824" y="1184" width="10" height="21" fill="#ffcdd2"/>
<rect x="1835" y="1184" width="9" height="14" fill="#ffcdd2"/>
<rect x="1845" y="1184" width="10" height="7" fill="#ffcdd2"/>
<rect x="1856" y="1184" width="9" height="1" fill="#ffcdd2"/>
<rect x="1866" y="1176" width="10" height="8" fill="#26a69a"/>
<rect x="1877" y="1171" width="9" height="13" fill="#26a69a"/>
<rect x="1887" y="1170" width="10" height="14" fill="#26a69a"/>
<rect x="1898" y="1175" width="9" height="9" fill="#b2dfdb"/>
<rect x="1908" y="1181" width="10" height="3" fill="#b2dfdb"/>
<rect x="1919" y="1183" width="9" height="1" fill="#b2dfdb"/>
<rect x="1929" y="1182" width="10" height="2" fill="#26a69a"/>
<rect x="1940" y="1181" width="9" height="3" fill="#26a69a"/>
<rect x="1950" y="1184" width="10" height="3" fill="#ff5252"/>
<rect x="1961" y="1184" width="9" height="15" fill="#ff5252"/>
<rect x="1971" y="1184" width="10" height="17" fill="#ff5252"/>
<rect x="1982" y="1184" width="9" height="21" fill="#ff5252"/>
<rect x="1993" y="1184" width="9" height="19" fill="#ffcdd2"/>
<rect x="2003" y="1184" width="10" height="18" fill="#ffcdd2"/>
<rect x="2014" y="1184" width="9" height="12" fill="#ffcdd2"/>
<rect x="2024" y="1184" width="10" height="5" fill="#ffcdd2"/>
<rect x="2035" y="1184" width="9" height="5" fill="#ffcdd2"/>
<rect x="2045" y="1184" width="10" height="6" fill="#ff5252"/>
<rect x="2056" y="1184" width="9" height="9" fill="#ff5252"/>
<rect x="2066" y="1184" width="10" height="18" fill="#ff5252"/>
<rect x="2077" y="1184" width="9" height="21" fill="#ff5252"/>
<rect x="2087" y="1184" width="10" height="23" fill="#ff5252"/>
<rect x="2098" y="1184" width="9" height="26" fill="#ff5252"/>
<rect x="2108" y="1184" width="10" height="24" fill="#ffcdd2"/>
<rect x="2119" y="1184" width="9" height="23" fill="#ffcdd2"/>
<rect x="2129" y="1184" width="10" height="29" fill="#ff5252"/>
<rect x="2140" y="1184" width="9" height="32" fill="#ff5252"/>
<rect x="2150" y="1184" width="10" height="32" fill="#ff5252"/>
<rect x="2161" y="1184" width="9" height="26" fill="#ffcdd2"/>
<rect x="2171" y="1184" width="10" height="17" fill="#ffcdd2"/>
<rect x="2182" y="1184" width="9" height="11" fill="#ffcdd2"/>
<rect x="2192" y="1184" width="10" height="1" fill="#ffcdd2"/>
<rect x="2203" y="1175" width="9" height="9" fill="#26a69a"/>
<rect x="2213" y="1169" width="10" height="15" fill="#26a69a"/>
<rect x="2224" y="1165" width="9" height="19" fill="#26a69a"/>
<rect x="2234" y="1163" width="10" height="21" fill="#26a69a"/>
<rect x="2245" y="1169" width="9" height="15" fill="#b2dfdb"/>
<rect x="2255" y="1164" width="10" height="20" fill="#26a69a"/>
<rect x="2266" y="1158" width="9" height="26" fill="#26a69a"/>
<line x1="0" y1="1183.5" x2="3344" y2="1183.5" stroke="#6e717c" stroke-width="1" stroke-dasharray="5 6" stroke-dashoffset="5"/>
<polyline points="2.0,1105.3 12.5,1102.7 23.0,1103.7 33.6,1108.7 44.1,1112.5 54.6,1112.1 65.1,1112.1 75.6,1100.2 86.1,1092.5 96.6,1083.8 107.1,1079.5 117.6,1080.1 128.1,1078.9 138.6,1080.5 149.1,1082.3 159.6,1085.5 170.1,1089.9 180.6,1087.5 191.2,1088.7 201.7,1088.1 212.2,1082.9 222.7,1075.8 233.2,1080.5 243.7,1084.4 254.2,1086.0 264.7,1087.5 275.2,1090.8 285.7,1096.9 296.2,1107.1 306.7,1119.2 317.2,1128.1 327.7,1133.5 338.2,1138.0 348.7,1143.0 359.3,1148.7 369.8,1160.2 380.3,1163.5 390.8,1164.0 401.3,1164.1 411.8,1155.3 422.3,1148.8 432.8,1147.4 443.3,1152.7 453.8,1156.4 464.3,1161.0 474.8,1164.5 485.3,1165.0 495.8,1170.2 506.3,1173.6 516.8,1177.0 527.4,1182.5 537.9,1189.3 548.4,1196.8 558.9,1193.4 569.4,1189.3 579.9,1183.5 590.4,1179.7 600.9,1176.5 611.4,1173.6 621.9,1169.4 632.4,1168.8 642.9,1171.5 653.4,1167.2 663.9,1162.5 674.4,1162.4 685.0,1162.0 695.5,1159.9 706.0,1160.5 716.5,1159.9 727.0,1154.9 737.5,1141.7 748.0,1128.6 758.5,1119.4 769.0,1109.4 779.5,1101.0 790.0,1099.6 800.5,1097.4 811.0,1095.7 821.5,1097.8 832.0,1100.8 842.5,1105.2 853.1,1109.2 863.6,1108.1 874.1,1110.5 884.6,1114.2 895.1,1119.3 905.6,1123.3 916.1,1124.2 926.6,1128.4 937.1,1132.6 947.6,1136.7 958.1,1144.7 968.6,1156.5 979.1,1167.5 989.6,1172.7 1000.1,1175.4 1010.7,1179.4 1021.2,1180.8 1031.7,1176.8 1042.2,1175.5 1052.7,1174.9 1063.2,1168.8 1073.7,1165.5 1084.2,1160.2 1094.7,1149.8 1105.2,1152.1 1115.7,1156.2 1126.2,1159.6 1136.7,1162.5 1147.2,1167.5 1157.7,1178.7 1168.2,1184.5 1178.8,1192.8 1189.3,1190.1 1199.8,1191.1 1210.3,1195.7 1220.8,1205.8 1231.3,1210.2 1241.8,1214.4 1252.3,1214.6 1262.8,1223.1 1273.3,1228.3 1283.8,1233.1 1294.3,1234.2 1304.8,1230.4 1315.3,1225.9 1325.8,1224.0 1336.3,1222.2 1346.9,1221.2 1357.4,1218.1 1367.9,1213.4 1378.4,1210.5 1388.9,1202.9 1399.4,1193.7 1409.9,1185.0 1420.4,1178.6 1430.9,1175.0 1441.4,1172.1 1451.9,1167.0 1462.4,1164.0 1472.9,1160.5 1483.4,1160.9 1493.9,1161.4 1504.5,1163.0 1515.0,1169.7 1525.5,1176.6 1536.0,1179.3 1546.5,1190.4 1557.0,1197.5 1567.5,1203.0 1578.0,1201.9 1588.5,1196.5 1599.0,1192.7 1609.5,1180.1 1620.0,1166.4 1630.5,1152.5 1641.0,1141.6 1651.5,1131.4 1662.0,1121.6 1672.6,1121.4 1683.1,1117.9 1693.6,1119.4 1704.1,1139.0 1714.6,1159.4 1725.1,1166.8 1735.6,1172.4 1746.1,1181.4 1756.6,1193.1 1767.1,1207.5 1777.6,1222.1 1788.1,1231.5 1798.6,1235.3 1809.1,1233.8 1819.6,1236.7 1830.1,1239.9 1840.7,1236.6 1851.2,1231.4 1861.7,1225.6 1872.2,1214.7 1882.7,1206.8 1893.2,1202.8 1903.7,1205.2 1914.2,1210.4 1924.7,1211.6 1935.2,1211.2 1945.7,1209.6 1956.2,1216.2 1966.7,1231.4 1977.2,1237.8 1987.7,1247.5 1998.3,1250.2 2008.8,1253.7 2019.3,1250.7 2029.8,1244.9 2040.3,1245.8 2050.8,1248.7 2061.3,1254.2 2071.8,1268.2 2082.3,1276.0 2092.8,1283.9 2103.3,1293.2 2113.8,1297.5 2124.3,1302.6 2134.8,1315.3 2145.3,1326.7 2155.8,1334.8 2166.4,1335.0 2176.9,1330.4 2187.4,1327.1 2197.9,1316.5 2208.4,1304.9 2218.9,1295.5 2229.4,1286.8 2239.9,1279.9 2250.4,1281.6 2260.9,1271.6 2271.4,1259.2" fill="none" stroke="#2962ff" stroke-width="1.4" stroke-linejoin="round"/>
<polyline points="2.0,1121.4 12.5,1117.7 23.0,1114.9 33.6,1113.7 44.1,1113.4 54.6,1113.2 65.1,1112.9 75.6,1110.4 86.1,1106.8 96.6,1102.2 107.1,1097.7 117.6,1094.2 128.1,1091.1 138.6,1089.0 149.1,1087.7 159.6,1087.2 170.1,1087.8 180.6,1087.7 191.2,1087.9 201.7,1088.0 212.2,1086.9 222.7,1084.7 233.2,1083.9 243.7,1084.0 254.2,1084.4 264.7,1085.0 275.2,1086.2 285.7,1088.3 296.2,1092.1 306.7,1097.5 317.2,1103.6 327.7,1109.6 338.2,1115.3 348.7,1120.8 359.3,1126.4 369.8,1133.1 380.3,1139.2 390.8,1144.2 401.3,1148.2 411.8,1149.6 422.3,1149.4 432.8,1149.0 443.3,1149.8 453.8,1151.1 464.3,1153.1 474.8,1155.4 485.3,1157.3 495.8,1159.9 506.3,1162.6 516.8,1165.5 527.4,1168.9 537.9,1173.0 548.4,1177.7 558.9,1180.9 569.4,1182.6 579.9,1182.7 590.4,1182.1 600.9,1181.0 611.4,1179.5 621.9,1177.5 632.4,1175.8 642.9,1174.9 653.4,1173.4 663.9,1171.2 674.4,1169.4 685.0,1167.9 695.5,1166.3 706.0,1165.2 716.5,1164.1 727.0,1162.3 737.5,1158.2 748.0,1152.3 758.5,1145.7 769.0,1138.4 779.5,1130.9 790.0,1124.7 800.5,1119.2 811.0,1114.5 821.5,1111.2 832.0,1109.1 842.5,1108.3 853.1,1108.5 863.6,1108.4 874.1,1108.8 884.6,1109.9 895.1,1111.8 905.6,1114.1 916.1,1116.1 926.6,1118.5 937.1,1121.4 947.6,1124.4 958.1,1128.5 968.6,1134.1 979.1,1140.8 989.6,1147.2 1000.1,1152.8 1010.7,1158.1 1021.2,1162.7 1031.7,1165.5 1042.2,1167.5 1052.7,1169.0 1063.2,1168.9 1073.7,1168.3 1084.2,1166.6 1094.7,1163.3 1105.2,1161.0 1115.7,1160.1 1126.2,1160.0 1136.7,1160.5 1147.2,1161.9 1157.7,1165.3 1168.2,1169.1 1178.8,1173.8 1189.3,1177.1 1199.8,1179.9 1210.3,1183.0 1220.8,1187.6 1231.3,1192.1 1241.8,1196.6 1252.3,1200.2 1262.8,1204.8 1273.3,1209.5 1283.8,1214.2 1294.3,1218.2 1304.8,1220.6 1315.3,1221.7 1325.8,1222.1 1336.3,1222.2 1346.9,1222.0 1357.4,1221.2 1367.9,1219.6 1378.4,1217.8 1388.9,1214.8 1399.4,1210.6 1409.9,1205.5 1420.4,1200.1 1430.9,1195.1 1441.4,1190.5 1451.9,1185.8 1462.4,1181.4 1472.9,1177.2 1483.4,1174.0 1493.9,1171.5 1504.5,1169.8 1515.0,1169.7 1525.5,1171.1 1536.0,1172.7 1546.5,1176.3 1557.0,1180.5 1567.5,1185.0 1578.0,1188.4 1588.5,1190.0 1599.0,1190.5 1609.5,1188.5 1620.0,1184.1 1630.5,1177.7 1641.0,1170.5 1651.5,1162.7 1662.0,1154.5 1672.6,1147.8 1683.1,1141.9 1693.6,1137.4 1704.1,1137.7 1714.6,1142.0 1725.1,1147.0 1735.6,1152.1 1746.1,1157.9 1756.6,1165.0 1767.1,1173.5 1777.6,1183.2 1788.1,1192.9 1798.6,1201.4 1809.1,1207.9 1819.6,1213.6 1830.1,1218.9 1840.7,1222.4 1851.2,1224.2 1861.7,1224.5 1872.2,1222.5 1882.7,1219.4 1893.2,1216.1 1903.7,1213.9 1914.2,1213.2 1924.7,1212.9 1935.2,1212.5 1945.7,1212.0 1956.2,1212.8 1966.7,1216.5 1977.2,1220.8 1987.7,1226.1 1998.3,1230.9 2008.8,1235.5 2019.3,1238.5 2029.8,1239.8 2040.3,1241.0 2050.8,1242.5 2061.3,1244.9 2071.8,1249.5 2082.3,1254.8 2092.8,1260.6 2103.3,1267.1 2113.8,1273.2 2124.3,1279.1 2134.8,1286.3 2145.3,1294.4 2155.8,1302.5 2166.4,1309.0 2176.9,1313.3 2187.4,1316.0 2197.9,1316.1 2208.4,1313.9 2218.9,1310.2 2229.4,1305.5 2239.9,1300.4 2250.4,1296.6 2260.9,1291.6 2271.4,1285.1" fill="none" stroke="#ff6d00" stroke-width="1.4" stroke-linejoin="round"/>
</g>
<g clip-path="url(#crsi)">
<rect x="0" y="1490" width="3344" height="102" fill="#7e57c2" fill-opacity="0.1"/>
<polygon points="2.0,1490.2 2.0,1452.6 12.5,1446.9 23.0,1527.5 33.6,1592.9 44.1,1562.6 54.6,1483.7 65.1,1477.9 75.6,1427.8 86.1,1440.2 96.6,1431.2 107.1,1467.0 117.6,1531.3 128.1,1492.9 138.6,1525.6 149.1,1512.2 159.6,1535.9 170.1,1565.2 180.6,1451.4 191.2,1502.9 201.7,1473.6 212.2,1441.6 222.7,1431.0 233.2,1560.1 243.7,1547.5 254.2,1515.2 264.7,1503.7 275.2,1532.2 285.7,1580.6 296.2,1625.4 306.7,1640.8 317.2,1600.3 327.7,1543.8 338.2,1533.8 348.7,1563.2 359.3,1598.6 369.8,1647.8 380.3,1533.8 390.8,1505.8 401.3,1500.9 411.8,1443.2 422.3,1444.8 432.8,1521.7 443.3,1593.4 453.8,1576.6 464.3,1594.3 474.8,1582.1 485.3,1512.4 495.8,1596.2 506.3,1574.8 516.8,1585.5 527.4,1624.6 537.9,1641.3 548.4,1651.4 558.9,1490.1 569.4,1480.0 579.9,1461.5 590.4,1485.8 600.9,1482.0 611.4,1473.3 621.9,1445.7 632.4,1546.4 642.9,1601.1 653.4,1489.6 663.9,1476.3 674.4,1545.8 685.0,1535.1 695.5,1496.9 706.0,1551.0 716.5,1516.4 727.0,1458.3 737.5,1429.2 748.0,1425.2 758.5,1434.8 769.0,1426.8 779.5,1424.0 790.0,1534.4 800.5,1505.2 811.0,1490.4 821.5,1555.0 832.0,1561.7 842.5,1589.1 853.1,1575.2 863.6,1459.5 874.1,1530.0 884.6,1553.3 895.1,1583.8 905.6,1555.8 916.1,1482.1 926.6,1561.5 937.1,1569.0 947.6,1573.1 958.1,1636.6 968.6,1654.6 979.1,1657.3 989.6,1556.9 1000.1,1525.8 1010.7,1565.6 1021.2,1520.7 1031.7,1462.1 1042.2,1507.1 1052.7,1517.6 1063.2,1454.2 1073.7,1490.5 1084.2,1461.9 1094.7,1434.5 1105.2,1566.3 1115.7,1580.5 1126.2,1578.8 1136.7,1576.3 1147.2,1611.7 1157.7,1646.9 1168.2,1581.3 1178.8,1611.5 1189.3,1500.8 1199.8,1539.0 1210.3,1577.4 1220.8,1617.4 1231.3,1567.6 1241.8,1577.4 1252.3,1530.9 1262.8,1611.7 1273.3,1592.9 1283.8,1603.9 1294.3,1552.5 1304.8,1490.9 1315.3,1479.4 1325.8,1537.5 1336.3,1542.5 1346.9,1569.2 1357.4,1505.1 1367.9,1468.5 1378.4,1522.8 1388.9,1453.8 1399.4,1438.8 1409.9,1433.9 1420.4,1450.8 1430.9,1514.1 1441.4,1509.0 1451.9,1453.1 1462.4,1495.5 1472.9,1467.9 1483.4,1570.7 1493.9,1564.3 1504.5,1593.5 1515.0,1644.8 1525.5,1650.6 1536.0,1558.6 1546.5,1630.8 1557.0,1601.0 1567.5,1601.9 1578.0,1502.6 1588.5,1466.6 1599.0,1482.7 1609.5,1437.7 1620.0,1430.4 1630.5,1425.5 1641.0,1425.1 1651.5,1421.5 1662.0,1418.6 1672.6,1561.5 1683.1,1511.6 1693.6,1559.1 1704.1,1636.4 1714.6,1643.5 1725.1,1555.0 1735.6,1551.2 1746.1,1586.9 1756.6,1613.0 1767.1,1632.9 1777.6,1642.6 1788.1,1607.4 1798.6,1549.8 1809.1,1500.0 1819.6,1566.6 1830.1,1583.9 1840.7,1505.9 1851.2,1487.0 1861.7,1474.7 1872.2,1441.2 1882.7,1468.5 1893.2,1529.6 1903.7,1602.9 1914.2,1624.7 1924.7,1569.2 1935.2,1548.0 1945.7,1526.9 1956.2,1622.4 1966.7,1649.0 1977.2,1581.7 1987.7,1609.4 1998.3,1556.0 2008.8,1575.8 2019.3,1513.8 2029.8,1490.7 2040.3,1570.0 2050.8,1594.1 2061.3,1619.4 2071.8,1647.9 2082.3,1612.2 2092.8,1625.2 2103.3,1640.3 2113.8,1602.1 2124.3,1622.8 2134.8,1651.4 2145.3,1655.3 2155.8,1656.4 2166.4,1559.5 2176.9,1517.1 2187.4,1551.5 2197.9,1479.3 2208.4,1467.7 2218.9,1493.2 2229.4,1495.8 2239.9,1534.4 2250.4,1634.0 2260.9,1505.6 2271.4,1484.5 2271.4,1490.2" fill="url(#gG)" clip-path="url(#crsiTop)"/>
<polygon points="2.0,1593.2 2.0,1452.6 12.5,1446.9 23.0,1527.5 33.6,1592.9 44.1,1562.6 54.6,1483.7 65.1,1477.9 75.6,1427.8 86.1,1440.2 96.6,1431.2 107.1,1467.0 117.6,1531.3 128.1,1492.9 138.6,1525.6 149.1,1512.2 159.6,1535.9 170.1,1565.2 180.6,1451.4 191.2,1502.9 201.7,1473.6 212.2,1441.6 222.7,1431.0 233.2,1560.1 243.7,1547.5 254.2,1515.2 264.7,1503.7 275.2,1532.2 285.7,1580.6 296.2,1625.4 306.7,1640.8 317.2,1600.3 327.7,1543.8 338.2,1533.8 348.7,1563.2 359.3,1598.6 369.8,1647.8 380.3,1533.8 390.8,1505.8 401.3,1500.9 411.8,1443.2 422.3,1444.8 432.8,1521.7 443.3,1593.4 453.8,1576.6 464.3,1594.3 474.8,1582.1 485.3,1512.4 495.8,1596.2 506.3,1574.8 516.8,1585.5 527.4,1624.6 537.9,1641.3 548.4,1651.4 558.9,1490.1 569.4,1480.0 579.9,1461.5 590.4,1485.8 600.9,1482.0 611.4,1473.3 621.9,1445.7 632.4,1546.4 642.9,1601.1 653.4,1489.6 663.9,1476.3 674.4,1545.8 685.0,1535.1 695.5,1496.9 706.0,1551.0 716.5,1516.4 727.0,1458.3 737.5,1429.2 748.0,1425.2 758.5,1434.8 769.0,1426.8 779.5,1424.0 790.0,1534.4 800.5,1505.2 811.0,1490.4 821.5,1555.0 832.0,1561.7 842.5,1589.1 853.1,1575.2 863.6,1459.5 874.1,1530.0 884.6,1553.3 895.1,1583.8 905.6,1555.8 916.1,1482.1 926.6,1561.5 937.1,1569.0 947.6,1573.1 958.1,1636.6 968.6,1654.6 979.1,1657.3 989.6,1556.9 1000.1,1525.8 1010.7,1565.6 1021.2,1520.7 1031.7,1462.1 1042.2,1507.1 1052.7,1517.6 1063.2,1454.2 1073.7,1490.5 1084.2,1461.9 1094.7,1434.5 1105.2,1566.3 1115.7,1580.5 1126.2,1578.8 1136.7,1576.3 1147.2,1611.7 1157.7,1646.9 1168.2,1581.3 1178.8,1611.5 1189.3,1500.8 1199.8,1539.0 1210.3,1577.4 1220.8,1617.4 1231.3,1567.6 1241.8,1577.4 1252.3,1530.9 1262.8,1611.7 1273.3,1592.9 1283.8,1603.9 1294.3,1552.5 1304.8,1490.9 1315.3,1479.4 1325.8,1537.5 1336.3,1542.5 1346.9,1569.2 1357.4,1505.1 1367.9,1468.5 1378.4,1522.8 1388.9,1453.8 1399.4,1438.8 1409.9,1433.9 1420.4,1450.8 1430.9,1514.1 1441.4,1509.0 1451.9,1453.1 1462.4,1495.5 1472.9,1467.9 1483.4,1570.7 1493.9,1564.3 1504.5,1593.5 1515.0,1644.8 1525.5,1650.6 1536.0,1558.6 1546.5,1630.8 1557.0,1601.0 1567.5,1601.9 1578.0,1502.6 1588.5,1466.6 1599.0,1482.7 1609.5,1437.7 1620.0,1430.4 1630.5,1425.5 1641.0,1425.1 1651.5,1421.5 1662.0,1418.6 1672.6,1561.5 1683.1,1511.6 1693.6,1559.1 1704.1,1636.4 1714.6,1643.5 1725.1,1555.0 1735.6,1551.2 1746.1,1586.9 1756.6,1613.0 1767.1,1632.9 1777.6,1642.6 1788.1,1607.4 1798.6,1549.8 1809.1,1500.0 1819.6,1566.6 1830.1,1583.9 1840.7,1505.9 1851.2,1487.0 1861.7,1474.7 1872.2,1441.2 1882.7,1468.5 1893.2,1529.6 1903.7,1602.9 1914.2,1624.7 1924.7,1569.2 1935.2,1548.0 1945.7,1526.9 1956.2,1622.4 1966.7,1649.0 1977.2,1581.7 1987.7,1609.4 1998.3,1556.0 2008.8,1575.8 2019.3,1513.8 2029.8,1490.7 2040.3,1570.0 2050.8,1594.1 2061.3,1619.4 2071.8,1647.9 2082.3,1612.2 2092.8,1625.2 2103.3,1640.3 2113.8,1602.1 2124.3,1622.8 2134.8,1651.4 2145.3,1655.3 2155.8,1656.4 2166.4,1559.5 2176.9,1517.1 2187.4,1551.5 2197.9,1479.3 2208.4,1467.7 2218.9,1493.2 2229.4,1495.8 2239.9,1534.4 2250.4,1634.0 2260.9,1505.6 2271.4,1484.5 2271.4,1593.2" fill="url(#gR)" clip-path="url(#crsiBot)"/>
<line x1="0" y1="1490.5" x2="3344" y2="1490.5" stroke="#6e717c" stroke-opacity="1" stroke-width="1" stroke-dasharray="5 6" stroke-dashoffset="5"/>
<line x1="0" y1="1541.5" x2="3344" y2="1541.5" stroke="#6e717c" stroke-opacity="0.55" stroke-width="1" stroke-dasharray="5 6" stroke-dashoffset="5"/>
<line x1="0" y1="1592.5" x2="3344" y2="1592.5" stroke="#6e717c" stroke-opacity="1" stroke-width="1" stroke-dasharray="5 6" stroke-dashoffset="5"/>
<polyline points="2.0,1452.6 12.5,1446.9 23.0,1527.5 33.6,1592.9 44.1,1562.6 54.6,1483.7 65.1,1477.9 75.6,1427.8 86.1,1440.2 96.6,1431.2 107.1,1467.0 117.6,1531.3 128.1,1492.9 138.6,1525.6 149.1,1512.2 159.6,1535.9 170.1,1565.2 180.6,1451.4 191.2,1502.9 201.7,1473.6 212.2,1441.6 222.7,1431.0 233.2,1560.1 243.7,1547.5 254.2,1515.2 264.7,1503.7 275.2,1532.2 285.7,1580.6 296.2,1625.4 306.7,1640.8 317.2,1600.3 327.7,1543.8 338.2,1533.8 348.7,1563.2 359.3,1598.6 369.8,1647.8 380.3,1533.8 390.8,1505.8 401.3,1500.9 411.8,1443.2 422.3,1444.8 432.8,1521.7 443.3,1593.4 453.8,1576.6 464.3,1594.3 474.8,1582.1 485.3,1512.4 495.8,1596.2 506.3,1574.8 516.8,1585.5 527.4,1624.6 537.9,1641.3 548.4,1651.4 558.9,1490.1 569.4,1480.0 579.9,1461.5 590.4,1485.8 600.9,1482.0 611.4,1473.3 621.9,1445.7 632.4,1546.4 642.9,1601.1 653.4,1489.6 663.9,1476.3 674.4,1545.8 685.0,1535.1 695.5,1496.9 706.0,1551.0 716.5,1516.4 727.0,1458.3 737.5,1429.2 748.0,1425.2 758.5,1434.8 769.0,1426.8 779.5,1424.0 790.0,1534.4 800.5,1505.2 811.0,1490.4 821.5,1555.0 832.0,1561.7 842.5,1589.1 853.1,1575.2 863.6,1459.5 874.1,1530.0 884.6,1553.3 895.1,1583.8 905.6,1555.8 916.1,1482.1 926.6,1561.5 937.1,1569.0 947.6,1573.1 958.1,1636.6 968.6,1654.6 979.1,1657.3 989.6,1556.9 1000.1,1525.8 1010.7,1565.6 1021.2,1520.7 1031.7,1462.1 1042.2,1507.1 1052.7,1517.6 1063.2,1454.2 1073.7,1490.5 1084.2,1461.9 1094.7,1434.5 1105.2,1566.3 1115.7,1580.5 1126.2,1578.8 1136.7,1576.3 1147.2,1611.7 1157.7,1646.9 1168.2,1581.3 1178.8,1611.5 1189.3,1500.8 1199.8,1539.0 1210.3,1577.4 1220.8,1617.4 1231.3,1567.6 1241.8,1577.4 1252.3,1530.9 1262.8,1611.7 1273.3,1592.9 1283.8,1603.9 1294.3,1552.5 1304.8,1490.9 1315.3,1479.4 1325.8,1537.5 1336.3,1542.5 1346.9,1569.2 1357.4,1505.1 1367.9,1468.5 1378.4,1522.8 1388.9,1453.8 1399.4,1438.8 1409.9,1433.9 1420.4,1450.8 1430.9,1514.1 1441.4,1509.0 1451.9,1453.1 1462.4,1495.5 1472.9,1467.9 1483.4,1570.7 1493.9,1564.3 1504.5,1593.5 1515.0,1644.8 1525.5,1650.6 1536.0,1558.6 1546.5,1630.8 1557.0,1601.0 1567.5,1601.9 1578.0,1502.6 1588.5,1466.6 1599.0,1482.7 1609.5,1437.7 1620.0,1430.4 1630.5,1425.5 1641.0,1425.1 1651.5,1421.5 1662.0,1418.6 1672.6,1561.5 1683.1,1511.6 1693.6,1559.1 1704.1,1636.4 1714.6,1643.5 1725.1,1555.0 1735.6,1551.2 1746.1,1586.9 1756.6,1613.0 1767.1,1632.9 1777.6,1642.6 1788.1,1607.4 1798.6,1549.8 1809.1,1500.0 1819.6,1566.6 1830.1,1583.9 1840.7,1505.9 1851.2,1487.0 1861.7,1474.7 1872.2,1441.2 1882.7,1468.5 1893.2,1529.6 1903.7,1602.9 1914.2,1624.7 1924.7,1569.2 1935.2,1548.0 1945.7,1526.9 1956.2,1622.4 1966.7,1649.0 1977.2,1581.7 1987.7,1609.4 1998.3,1556.0 2008.8,1575.8 2019.3,1513.8 2029.8,1490.7 2040.3,1570.0 2050.8,1594.1 2061.3,1619.4 2071.8,1647.9 2082.3,1612.2 2092.8,1625.2 2103.3,1640.3 2113.8,1602.1 2124.3,1622.8 2134.8,1651.4 2145.3,1655.3 2155.8,1656.4 2166.4,1559.5 2176.9,1517.1 2187.4,1551.5 2197.9,1479.3 2208.4,1467.7 2218.9,1493.2 2229.4,1495.8 2239.9,1534.4 2250.4,1634.0 2260.9,1505.6 2271.4,1484.5" fill="none" stroke="#7e57c2" stroke-width="2.4" stroke-linejoin="round"/>
<line x1="2186.3" y1="1459.7" x2="2313.3" y2="1487.1" stroke="#f23645" stroke-width="2.2" stroke-linecap="round"/>
</g>
<g clip-path="url(#cst)">
<rect x="0" y="1712" width="3344" height="100" fill="#2196f3" fill-opacity="0.1"/>
<line x1="0" y1="1712.5" x2="3344" y2="1712.5" stroke="#6e717c" stroke-opacity="1" stroke-width="1" stroke-dasharray="5 6" stroke-dashoffset="5"/>
<line x1="0" y1="1762.5" x2="3344" y2="1762.5" stroke="#6e717c" stroke-opacity="0.55" stroke-width="1" stroke-dasharray="5 6" stroke-dashoffset="5"/>
<line x1="0" y1="1812.5" x2="3344" y2="1812.5" stroke="#6e717c" stroke-opacity="1" stroke-width="1" stroke-dasharray="5 6" stroke-dashoffset="5"/>
<polyline points="2.0,1708.1 12.5,1710.1 23.0,1720.6 33.6,1749.2 44.1,1772.5 54.6,1762.7 65.1,1733.9 75.6,1704.7 86.1,1699.9 96.6,1690.9 107.1,1690.5 117.6,1696.8 128.1,1702.8 138.6,1708.5 149.1,1706.0 159.6,1712.9 170.1,1732.1 180.6,1723.0 191.2,1722.7 201.7,1698.0 212.2,1702.8 222.7,1690.5 233.2,1710.9 243.7,1728.4 254.2,1743.7 264.7,1733.0 275.2,1726.5 285.7,1739.9 296.2,1779.7 306.7,1815.6 317.2,1831.3 327.7,1814.3 338.2,1796.6 348.7,1789.7 359.3,1796.8 369.8,1809.9 380.3,1800.5 390.8,1767.1 401.3,1727.4 411.8,1699.6 422.3,1690.7 432.8,1692.3 443.3,1717.3 453.8,1740.0 464.3,1759.7 474.8,1768.6 485.3,1771.0 495.8,1783.5 506.3,1787.8 516.8,1802.8 527.4,1807.6 537.9,1815.3 548.4,1815.0 558.9,1785.7 569.4,1753.1 579.9,1715.9 590.4,1705.1 600.9,1696.9 611.4,1698.2 621.9,1691.5 632.4,1693.3 642.9,1706.9 653.4,1716.5 663.9,1717.6 674.4,1725.0 685.0,1738.5 695.5,1742.4 706.0,1739.4 716.5,1732.2 727.0,1724.7 737.5,1705.5 748.0,1695.0 758.5,1695.7 769.0,1693.0 779.5,1698.9 790.0,1711.3 800.5,1725.4 811.0,1728.4 821.5,1732.0 832.0,1753.3 842.5,1782.1 853.1,1802.0 863.6,1788.7 874.1,1768.2 884.6,1756.3 895.1,1761.4 905.6,1763.7 916.1,1741.0 926.6,1733.8 937.1,1731.5 947.6,1747.1 958.1,1769.2 968.6,1797.5 979.1,1825.8 989.6,1821.2 1000.1,1803.3 1010.7,1791.3 1021.2,1784.1 1031.7,1761.6 1042.2,1739.3 1052.7,1720.8 1063.2,1709.7 1073.7,1711.2 1084.2,1710.5 1094.7,1712.3 1105.2,1723.6 1115.7,1749.4 1126.2,1792.8 1136.7,1810.0 1147.2,1818.4 1157.7,1828.2 1168.2,1827.0 1178.8,1833.4 1189.3,1811.4 1199.8,1793.8 1210.3,1776.9 1220.8,1794.5 1231.3,1802.0 1241.8,1804.7 1252.3,1785.0 1262.8,1799.3 1273.3,1807.8 1283.8,1827.6 1294.3,1819.0 1304.8,1792.5 1315.3,1757.1 1325.8,1739.4 1336.3,1743.8 1346.9,1757.5 1357.4,1753.5 1367.9,1740.0 1378.4,1728.5 1388.9,1710.9 1399.4,1699.0 1409.9,1686.5 1420.4,1690.3 1430.9,1702.6 1441.4,1709.6 1451.9,1704.4 1462.4,1699.6 1472.9,1694.3 1483.4,1721.1 1493.9,1748.3 1504.5,1784.3 1515.0,1804.6 1525.5,1821.2 1536.0,1816.0 1546.5,1820.8 1557.0,1818.7 1567.5,1830.5 1578.0,1806.3 1588.5,1768.7 1599.0,1730.7 1609.5,1701.4 1620.0,1691.8 1630.5,1686.5 1641.0,1692.0 1651.5,1697.3 1662.0,1696.4 1672.6,1709.4 1683.1,1714.2 1693.6,1730.0 1704.1,1755.9 1714.6,1795.7 1725.1,1812.2 1735.6,1804.4 1746.1,1796.7 1756.6,1810.8 1767.1,1827.1 1777.6,1830.6 1788.1,1823.9 1798.6,1803.5 1809.1,1780.1 1819.6,1769.6 1830.1,1773.8 1840.7,1770.6 1851.2,1752.3 1861.7,1728.2 1872.2,1712.5 1882.7,1709.0 1893.2,1715.0 1903.7,1744.0 1914.2,1775.4 1924.7,1794.1 1935.2,1794.6 1945.7,1783.1 1956.2,1794.8 1966.7,1807.5 1977.2,1814.8 1987.7,1812.2 1998.3,1801.1 2008.8,1802.0 2019.3,1784.6 2029.8,1771.6 2040.3,1767.5 2050.8,1776.5 2061.3,1798.9 2071.8,1816.1 2082.3,1826.9 2092.8,1831.8 2103.3,1830.8 2113.8,1825.9 2124.3,1822.0 2134.8,1823.4 2145.3,1824.0 2155.8,1820.8 2166.4,1800.9 2176.9,1784.6 2187.4,1772.0 2197.9,1751.8 2208.4,1730.9 2218.9,1709.7 2229.4,1706.0 2239.9,1714.2 2250.4,1745.2 2260.9,1745.7 2271.4,1735.0" fill="none" stroke="#2962ff" stroke-width="1.4" stroke-linejoin="round"/>
<polyline points="2.0,1704.2 12.5,1707.1 23.0,1712.9 33.6,1726.6 44.1,1747.4 54.6,1761.5 65.1,1756.3 75.6,1733.8 86.1,1712.8 96.6,1698.5 107.1,1693.8 117.6,1692.7 128.1,1696.7 138.6,1702.7 149.1,1705.7 159.6,1709.1 170.1,1717.0 180.6,1722.7 191.2,1725.9 201.7,1714.6 212.2,1707.8 222.7,1697.1 233.2,1701.4 243.7,1709.9 254.2,1727.7 264.7,1735.0 275.2,1734.4 285.7,1733.1 296.2,1748.7 306.7,1778.4 317.2,1808.9 327.7,1820.4 338.2,1814.1 348.7,1800.2 359.3,1794.4 369.8,1798.8 380.3,1802.4 390.8,1792.5 401.3,1765.0 411.8,1731.4 422.3,1705.9 432.8,1694.2 443.3,1700.1 453.8,1716.5 464.3,1739.0 474.8,1756.1 485.3,1766.4 495.8,1774.4 506.3,1780.8 516.8,1791.4 527.4,1799.4 537.9,1808.6 548.4,1812.6 558.9,1805.3 569.4,1784.6 579.9,1751.6 590.4,1724.7 600.9,1706.0 611.4,1700.1 621.9,1695.5 632.4,1694.3 642.9,1697.2 653.4,1705.6 663.9,1713.6 674.4,1719.7 685.0,1727.0 695.5,1735.3 706.0,1740.1 716.5,1738.0 727.0,1732.1 737.5,1720.8 748.0,1708.4 758.5,1698.8 769.0,1694.6 779.5,1695.9 790.0,1701.1 800.5,1711.9 811.0,1721.7 821.5,1728.6 832.0,1737.9 842.5,1755.8 853.1,1779.1 863.6,1791.0 874.1,1786.3 884.6,1771.1 895.1,1762.0 905.6,1760.5 916.1,1755.3 926.6,1746.1 937.1,1735.4 947.6,1737.5 958.1,1749.3 968.6,1771.3 979.1,1797.5 989.6,1814.8 1000.1,1816.8 1010.7,1805.3 1021.2,1792.9 1031.7,1779.0 1042.2,1761.7 1052.7,1740.6 1063.2,1723.3 1073.7,1713.9 1084.2,1710.5 1094.7,1711.3 1105.2,1715.5 1115.7,1728.4 1126.2,1755.3 1136.7,1784.1 1147.2,1807.1 1157.7,1818.9 1168.2,1824.5 1178.8,1829.6 1189.3,1823.9 1199.8,1812.9 1210.3,1794.0 1220.8,1788.4 1231.3,1791.1 1241.8,1800.4 1252.3,1797.2 1262.8,1796.4 1273.3,1797.4 1283.8,1811.6 1294.3,1818.1 1304.8,1813.0 1315.3,1789.6 1325.8,1763.0 1336.3,1746.8 1346.9,1746.9 1357.4,1751.6 1367.9,1750.3 1378.4,1740.7 1388.9,1726.5 1399.4,1712.8 1409.9,1698.8 1420.4,1691.9 1430.9,1693.1 1441.4,1700.8 1451.9,1705.5 1462.4,1704.5 1472.9,1699.4 1483.4,1705.0 1493.9,1721.2 1504.5,1751.2 1515.0,1779.0 1525.5,1803.3 1536.0,1813.9 1546.5,1819.3 1557.0,1818.5 1567.5,1823.4 1578.0,1818.5 1588.5,1801.9 1599.0,1768.6 1609.5,1733.6 1620.0,1708.0 1630.5,1693.2 1641.0,1690.1 1651.5,1691.9 1662.0,1695.2 1672.6,1701.0 1683.1,1706.7 1693.6,1717.9 1704.1,1733.4 1714.6,1760.5 1725.1,1787.9 1735.6,1804.1 1746.1,1804.4 1756.6,1803.9 1767.1,1811.5 1777.6,1822.8 1788.1,1827.2 1798.6,1819.3 1809.1,1802.5 1819.6,1784.4 1830.1,1774.5 1840.7,1771.3 1851.2,1765.6 1861.7,1750.3 1872.2,1731.0 1882.7,1716.6 1893.2,1712.2 1903.7,1722.7 1914.2,1744.8 1924.7,1771.1 1935.2,1788.0 1945.7,1790.6 1956.2,1790.8 1966.7,1795.1 1977.2,1805.7 1987.7,1811.5 1998.3,1809.4 2008.8,1805.1 2019.3,1795.9 2029.8,1786.1 2040.3,1774.6 2050.8,1771.9 2061.3,1781.0 2071.8,1797.2 2082.3,1814.0 2092.8,1825.0 2103.3,1829.8 2113.8,1829.5 2124.3,1826.2 2134.8,1823.8 2145.3,1823.1 2155.8,1822.7 2166.4,1815.2 2176.9,1802.1 2187.4,1785.8 2197.9,1769.5 2208.4,1751.6 2218.9,1730.8 2229.4,1715.5 2239.9,1710.0 2250.4,1721.8 2260.9,1735.0 2271.4,1741.9" fill="none" stroke="#ff6d00" stroke-width="1.4" stroke-linejoin="round"/>
</g>
<rect x="0" y="1155" width="3451" height="1.3" fill="#e0e3eb"/>
<rect x="0" y="1406" width="3451" height="1.3" fill="#e0e3eb"/>
<rect x="0" y="1678" width="3451" height="1.3" fill="#e0e3eb"/>
<text x="3362" y="1087.0" font-family="Liberation Sans, sans-serif" font-size="24" fill="#131722" stroke="#131722" stroke-width="0.15" clip-path="url(#axm)">80,000</text>
<text x="3362" y="1002.6" font-family="Liberation Sans, sans-serif" font-size="24" fill="#131722" stroke="#131722" stroke-width="0.15" clip-path="url(#axm)">84,000</text>
<text x="3362" y="918.3" font-family="Liberation Sans, sans-serif" font-size="24" fill="#131722" stroke="#131722" stroke-width="0.15" clip-path="url(#axm)">88,000</text>
<text x="3362" y="833.9" font-family="Liberation Sans, sans-serif" font-size="24" fill="#131722" stroke="#131722" stroke-width="0.15" clip-path="url(#axm)">92,000</text>
<text x="3362" y="749.5" font-family="Liberation Sans, sans-serif" font-size="24" fill="#131722" stroke="#131722" stroke-width="0.15" clip-path="url(#axm)">96,000</text>
<text x="3362" y="665.1" font-family="Liberation Sans, sans-serif" font-size="24" fill="#131722" stroke="#131722" stroke-width="0.15" clip-path="url(#axm)">100,000</text>
<text x="3362" y="580.8" font-family="Liberation Sans, sans-serif" font-size="24" fill="#131722" stroke="#131722" stroke-width="0.15" clip-path="url(#axm)">104,000</text>
<text x="3362" y="496.4" font-family="Liberation Sans, sans-serif" font-size="24" fill="#131722" stroke="#131722" stroke-width="0.15" clip-path="url(#axm)">108,000</text>
<text x="3362" y="412.0" font-family="Liberation Sans, sans-serif" font-size="24" fill="#131722" stroke="#131722" stroke-width="0.15" clip-path="url(#axm)">112,000</text>
<text x="3362" y="327.6" font-family="Liberation Sans, sans-serif" font-size="24" fill="#131722" stroke="#131722" stroke-width="0.15" clip-path="url(#axm)">116,000</text>
<text x="3362" y="243.3" font-family="Liberation Sans, sans-serif" font-size="24" fill="#131722" stroke="#131722" stroke-width="0.15" clip-path="url(#axm)">120,000</text>
<text x="3362" y="158.9" font-family="Liberation Sans, sans-serif" font-size="24" fill="#131722" stroke="#131722" stroke-width="0.15" clip-path="url(#axm)">124,000</text>
<text x="3362" y="74.5" font-family="Liberation Sans, sans-serif" font-size="24" fill="#131722" stroke="#131722" stroke-width="0.15" clip-path="url(#axm)">128,000</text>
<text x="3362" y="-9.9" font-family="Liberation Sans, sans-serif" font-size="24" fill="#131722" stroke="#131722" stroke-width="0.15" clip-path="url(#axm)">132,000</text>
<text x="3362" y="1253.8" font-family="Liberation Sans, sans-serif" font-size="24" fill="#131722" stroke="#131722" stroke-width="0.15" clip-path="url(#axmacd)">−2,500</text>
<text x="3362" y="1317.6" font-family="Liberation Sans, sans-serif" font-size="24" fill="#131722" stroke="#131722" stroke-width="0.15" clip-path="url(#axmacd)">−5,000</text>
<text x="3362" y="1381.4" font-family="Liberation Sans, sans-serif" font-size="24" fill="#131722" stroke="#131722" stroke-width="0.15" clip-path="url(#axmacd)">−7,500</text>
<text x="3362" y="1420.4" font-family="Liberation Sans, sans-serif" font-size="24" fill="#131722" stroke="#131722" stroke-width="0.15" clip-path="url(#axrsi)">100.00</text>
<text x="3362" y="1484.7" font-family="Liberation Sans, sans-serif" font-size="24" fill="#131722" stroke="#131722" stroke-width="0.15" clip-path="url(#axrsi)">75.00</text>
<text x="3362" y="1549.1" font-family="Liberation Sans, sans-serif" font-size="24" fill="#131722" stroke="#131722" stroke-width="0.15" clip-path="url(#axrsi)">50.00</text>
<text x="3362" y="1613.5" font-family="Liberation Sans, sans-serif" font-size="24" fill="#131722" stroke="#131722" stroke-width="0.15" clip-path="url(#axrsi)">25.00</text>
<text x="3362" y="1677.9" font-family="Liberation Sans, sans-serif" font-size="24" fill="#131722" stroke="#131722" stroke-width="0.15" clip-path="url(#axrsi)">0.00</text>
<text x="3362" y="1719.8" font-family="Liberation Sans, sans-serif" font-size="24" fill="#131722" stroke="#131722" stroke-width="0.15" clip-path="url(#axst)">80.00</text>
<text x="3362" y="1786.3" font-family="Liberation Sans, sans-serif" font-size="24" fill="#131722" stroke="#131722" stroke-width="0.15" clip-path="url(#axst)">40.00</text>
<path d="M3345,306.6 H3453 Q3456,306.6 3456,309.6 V338.6 Q3456,341.6 3453,341.6 H3345 Z" fill="#089981"/>
<text x="3362" y="330.7" font-family="Liberation Sans, sans-serif" font-size="24" fill="#ffffff" stroke="#ffffff" stroke-width="0.8">115,820</text>
<path d="M3345,727.4 H3442 Q3445,727.4 3445,730.4 V758.4 Q3445,761.4 3442,761.4 H3345 Z" fill="#f23645"/>
<text x="3362" y="751.0" font-family="Liberation Sans, sans-serif" font-size="24" fill="#ffffff" stroke="#ffffff" stroke-width="0.8">95,900</text>
<path d="M3345,788.7 H3442 Q3445,788.7 3445,791.7 V818.9 Q3445,821.9 3442,821.9 H3345 Z" fill="#089981"/>
<text x="3362" y="811.9" font-family="Liberation Sans, sans-serif" font-size="24" fill="#ffffff" stroke="#ffffff" stroke-width="0.8">93,022</text>
<path d="M3345,893.5 H3442 Q3445,893.5 3445,896.5 V924.1 Q3445,927.1 3442,927.1 H3345 Z" fill="#2962ff"/>
<text x="3362" y="916.9" font-family="Liberation Sans, sans-serif" font-size="24" fill="#ffffff" stroke="#ffffff" stroke-width="0.8">88,027</text>
<path d="M3345,1062.6 H3442 Q3445,1062.6 3445,1065.6 V1092.8 Q3445,1095.8 3442,1095.8 H3345 Z" fill="#089981"/>
<text x="3362" y="1085.8" font-family="Liberation Sans, sans-serif" font-size="24" fill="#ffffff" stroke="#ffffff" stroke-width="0.8">80,028</text>
<path d="M3345,1157.1 H3430 Q3433,1157.1 3433,1160.1 V1188.7 Q3433,1191.7 3430,1191.7 H3345 Z" fill="#26a69a"/>
<text x="3362" y="1181.0" font-family="Liberation Sans, sans-serif" font-size="24" fill="#ffffff" stroke="#ffffff" stroke-width="0.8">1,013</text>
<path d="M3345,1242 H3442 Q3445,1242 3445,1245 V1272.8 Q3445,1275.8 3442,1275.8 H3345 Z" fill="#2962ff"/>
<text x="3362" y="1265.5" font-family="Liberation Sans, sans-serif" font-size="24" fill="#ffffff" stroke="#ffffff" stroke-width="0.8">−2,962</text>
<path d="M3345,1277 H3442 Q3445,1277 3445,1280 V1308.4 Q3445,1311.4 3442,1311.4 H3345 Z" fill="#ff6d00"/>
<text x="3362" y="1300.8" font-family="Liberation Sans, sans-serif" font-size="24" fill="#ffffff" stroke="#ffffff" stroke-width="0.8">−3,975</text>
<path d="M3345,1467.7 H3430 Q3433,1467.7 3433,1470.7 V1499.8 Q3433,1502.8 3430,1502.8 H3345 Z" fill="#7e57c2"/>
<text x="3362" y="1491.8" font-family="Liberation Sans, sans-serif" font-size="24" fill="#ffffff" stroke="#ffffff" stroke-width="0.8">71.87</text>
<path d="M3345,1718.4 H3430 Q3433,1718.4 3433,1721.4 V1749.3 Q3433,1752.3 3430,1752.3 H3345 Z" fill="#2962ff"/>
<text x="3362" y="1741.9" font-family="Liberation Sans, sans-serif" font-size="24" fill="#ffffff" stroke="#ffffff" stroke-width="0.8">66.00</text>
<path d="M3345,1754.7 H3430 Q3433,1754.7 3433,1757.7 V1785.6 Q3433,1788.6 3430,1788.6 H3345 Z" fill="#ff6d00"/>
<text x="3362" y="1778.2" font-family="Liberation Sans, sans-serif" font-size="24" fill="#ffffff" stroke="#ffffff" stroke-width="0.8">62.00</text>
<text x="2.0" y="1876" font-family="Liberation Sans, sans-serif" font-size="24" fill="#131722" text-anchor="middle">May</text>
<text x="327.7" y="1876" font-family="Liberation Sans, sans-serif" font-size="24" fill="#131722" text-anchor="middle">Jun</text>
<text x="642.9" y="1876" font-family="Liberation Sans, sans-serif" font-size="24" fill="#131722" text-anchor="middle">Jul</text>
<text x="968.6" y="1876" font-family="Liberation Sans, sans-serif" font-size="24" fill="#131722" text-anchor="middle">Aug</text>
<text x="1294.3" y="1876" font-family="Liberation Sans, sans-serif" font-size="24" fill="#131722" text-anchor="middle">Sep</text>
<text x="1609.5" y="1876" font-family="Liberation Sans, sans-serif" font-size="24" fill="#131722" text-anchor="middle">Oct</text>
<text x="1935.2" y="1876" font-family="Liberation Sans, sans-serif" font-size="24" fill="#131722" text-anchor="middle">Nov</text>
<text x="2250.4" y="1876" font-family="Liberation Sans, sans-serif" font-size="24" fill="#131722" text-anchor="middle">Dec</text>
<text x="2576.1" y="1876" font-family="Liberation Sans, sans-serif" font-size="24" font-weight="bold" fill="#131722" text-anchor="middle">2026</text>
<text x="2901.8" y="1876" font-family="Liberation Sans, sans-serif" font-size="24" fill="#131722" text-anchor="middle">Feb</text>
<text x="3196.0" y="1876" font-family="Liberation Sans, sans-serif" font-size="24" fill="#131722" text-anchor="middle">Mar</text>
<g transform="translate(3404.3,1870.7)" fill="none" stroke="#131722" stroke-width="1.3"><path d="M-5,-7.7 L5,-7.7 L9.1,0 L5,7.7 L-5,7.7 L-9.1,0 Z"/><circle r="2.4"/></g>
<circle cx="17.4" cy="17.9" r="11.4" fill="#f7931a"/>
<g transform="rotate(14 17.6 18.2)"><text x="17.8" y="23.2" font-family="Liberation Sans, sans-serif" font-size="14.5" font-weight="bold" fill="#ffffff" text-anchor="middle">B</text><rect x="15.2" y="10.6" width="1.3" height="2.4" fill="#fff"/><rect x="18" y="10.6" width="1.3" height="2.4" fill="#fff"/><rect x="15.2" y="22.8" width="1.3" height="2.4" fill="#fff"/><rect x="18" y="22.8" width="1.3" height="2.4" fill="#fff"/></g>
<text x="34.2" y="25.6" font-family="Liberation Sans, sans-serif" font-size="18.5" fill="#131722" textLength="312" lengthAdjust="spacingAndGlyphs">Bitcoin / U.S. Dollar · 1D · Bitstamp</text>
<circle cx="368" cy="18" r="10.9" fill="#089981" fill-opacity="0.14"/><circle cx="368" cy="18" r="4.7" fill="#089981"/>
<text x="389.8" y="23.6" font-family="Liberation Sans, sans-serif" font-size="15" fill="#131722" textLength="60.5" lengthAdjust="spacingAndGlyphs">O<tspan fill="#089981">91,303</tspan></text>
<text x="457.9" y="23.6" font-family="Liberation Sans, sans-serif" font-size="15" fill="#131722" textLength="60.5" lengthAdjust="spacingAndGlyphs">H<tspan fill="#089981">93,977</tspan></text>
<text x="526" y="23.6" font-family="Liberation Sans, sans-serif" font-size="15" fill="#131722" textLength="59" lengthAdjust="spacingAndGlyphs">L<tspan fill="#089981">91,030</tspan></text>
<text x="591.6" y="23.6" font-family="Liberation Sans, sans-serif" font-size="15" fill="#131722" textLength="60.5" lengthAdjust="spacingAndGlyphs">C<tspan fill="#089981">93,022</tspan></text>
<text x="658.8" y="23.6" font-family="Liberation Sans, sans-serif" font-size="15" fill="#089981" textLength="113.6" lengthAdjust="spacingAndGlyphs">+1,722 (+1.89%)</text>
<rect x="5.9" y="38.9" width="74.3" height="41.5" rx="6.5" fill="#ffffff" stroke="#f23645" stroke-width="1.2"/>
<text x="19" y="56" font-family="Liberation Sans, sans-serif" font-size="15" fill="#f23645" stroke="#f23645" stroke-width="0.35" textLength="48.2" lengthAdjust="spacingAndGlyphs">93,022</text>
<text x="28.7" y="72.9" font-family="Liberation Sans, sans-serif" font-size="13.8" fill="#f23645" textLength="29" lengthAdjust="spacingAndGlyphs">SELL</text>
<text x="94.6" y="63" font-family="Liberation Sans, sans-serif" font-size="12.5" fill="#131722" text-anchor="middle">1</text>
<rect x="108.6" y="38.9" width="74.8" height="41.5" rx="6.5" fill="#ffffff" stroke="#2962ff" stroke-width="1.2"/>
<text x="122.7" y="56" font-family="Liberation Sans, sans-serif" font-size="15" fill="#2962ff" stroke="#2962ff" stroke-width="0.35" textLength="47.3" lengthAdjust="spacingAndGlyphs">93,023</text>
<text x="133.5" y="72.9" font-family="Liberation Sans, sans-serif" font-size="13.8" fill="#2962ff" textLength="24.9" lengthAdjust="spacingAndGlyphs">BUY</text>
<rect x="0" y="1159" width="300" height="32" fill="#ffffff" fill-opacity="0.5"/>
<text x="6.2" y="1182" font-family="Liberation Sans, sans-serif" font-size="16.5" fill="#131722" textLength="124.7" lengthAdjust="spacingAndGlyphs">MACD 12 26 close</text>
<text x="142.9" y="1182" font-family="Liberation Sans, sans-serif" font-size="16.5" fill="#26a69a" textLength="38" lengthAdjust="spacingAndGlyphs">1,013</text>
<text x="190.2" y="1182" font-family="Liberation Sans, sans-serif" font-size="16.5" fill="#2962ff" textLength="46.6" lengthAdjust="spacingAndGlyphs">−2,962</text>
<text x="246.1" y="1182" font-family="Liberation Sans, sans-serif" font-size="16.5" fill="#ff6d00" textLength="46.6" lengthAdjust="spacingAndGlyphs">−3,975</text>
<rect x="0" y="1411" width="171.5" height="32" fill="#ffffff" fill-opacity="0.5"/>
<text x="6.5" y="1434" font-family="Liberation Sans, sans-serif" font-size="16.5" fill="#131722" textLength="75" lengthAdjust="spacingAndGlyphs">RSI 3 close</text>
<circle cx="103" cy="1428.2" r="10.5" fill="#7e57c2" fill-opacity="0.18"/>
<g transform="translate(103,1428.2)" fill="none" stroke="#7e57c2" stroke-width="1.8"><path d="M-5.5,-1 A5.6,5.6 0 0 1 4.6,-3.2"/><path d="M5.5,1 A5.6,5.6 0 0 1 -4.6,3.2"/><path d="M2.2,-5.6 L5,-3 L2,-1" /><path d="M-2.2,5.6 L-5,3 L-2,1"/></g>
<text x="124.9" y="1434" font-family="Liberation Sans, sans-serif" font-size="16.5" fill="#7e57c2" textLength="38.7" lengthAdjust="spacingAndGlyphs">71.87</text>
<rect x="0" y="1683" width="190" height="31" fill="#ffffff" fill-opacity="0.5"/>
<text x="6.5" y="1704.6" font-family="Liberation Sans, sans-serif" font-size="16.5" fill="#131722" textLength="77.8" lengthAdjust="spacingAndGlyphs">Stoch 9 3 3</text>
<text x="96" y="1704.6" font-family="Liberation Sans, sans-serif" font-size="16.5" fill="#2962ff" textLength="38.7" lengthAdjust="spacingAndGlyphs">66.00</text>
<text x="143.5" y="1704.6" font-family="Liberation Sans, sans-serif" font-size="16.5" fill="#ff6d00" textLength="38.7" lengthAdjust="spacingAndGlyphs">62.00</text>
<g fill="#ffffff" stroke="#ffffff" stroke-width="4" stroke-linejoin="round"><path d="M10,1807 H24.8 V1825.5 H17.6 V1813.8 H10 Z"/><circle cx="31.3" cy="1810.3" r="3.4"/><path d="M37.5,1807 H47.2 L40,1825.5 H31.7 Z"/></g>
<g fill="#131722"><path d="M10,1807 H24.8 V1825.5 H17.6 V1813.8 H10 Z"/><circle cx="31.3" cy="1810.3" r="3.4"/><path d="M37.5,1807 H47.2 L40,1825.5 H31.7 Z"/></g>
</svg>
</body></html>
